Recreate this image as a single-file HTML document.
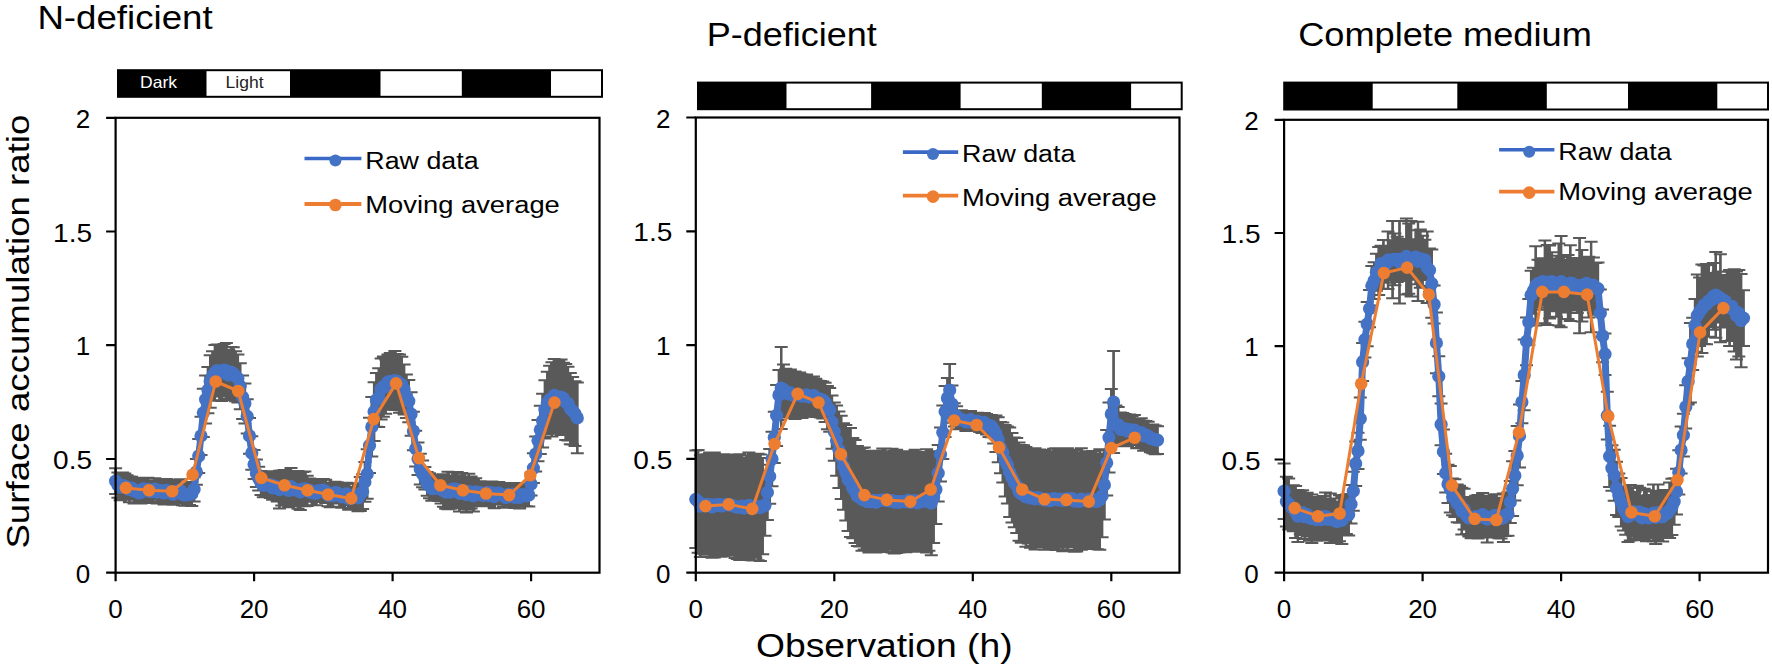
<!DOCTYPE html>
<html><head><meta charset="utf-8"><title>Surface accumulation ratio</title>
<style>html,body{margin:0;padding:0;background:#fff;}body{width:1772px;height:666px;overflow:hidden;}svg{display:block;}</style>
</head><body>
<svg width="1772" height="666" viewBox="0 0 1772 666">
<rect x="0" y="0" width="1772" height="666" fill="#fff"/>
<rect x="117" y="69.2" width="486" height="28.6" fill="#000"/>
<rect x="206.5" y="71.2" width="83.5" height="24.6" fill="#fff"/>
<rect x="380.5" y="71.2" width="81.3" height="24.6" fill="#fff"/>
<rect x="551" y="71.2" width="50" height="24.6" fill="#fff"/>
<text x="158.5" y="87.6" font-family='"Liberation Sans", Arial, sans-serif' font-size="16.5" fill="#fff" text-anchor="middle" textLength="37" lengthAdjust="spacingAndGlyphs">Dark</text>
<text x="244.5" y="87.8" font-family='"Liberation Sans", Arial, sans-serif' font-size="16.5" fill="#222" text-anchor="middle" textLength="38" lengthAdjust="spacingAndGlyphs">Light</text>
<path d="M115.6 468.2V494M109.1 468.2H122.1M109.1 494H122.1M117.9 472.6V497.7M111.4 472.6H124.4M111.4 497.7H124.4M120.2 474.3V500.2M113.7 474.3H126.7M113.7 500.2H126.7M122.5 472.6V498.5M116 472.6H129M116 498.5H129M124.8 473.5V498.8M118.3 473.5H131.3M118.3 498.8H131.3M127.1 475.3V498.7M120.6 475.3H133.6M120.6 498.7H133.6M129.4 476.6V502.3M122.9 476.6H135.9M122.9 502.3H135.9M131.8 476.7V499.7M125.3 476.7H138.3M125.3 499.7H138.3M134.1 478.2V503.4M127.6 478.2H140.6M127.6 503.4H140.6M136.4 479.2V502.2M129.9 479.2H142.9M129.9 502.2H142.9M138.7 482V503.6M132.2 482H145.2M132.2 503.6H145.2M141 481.1V503.6M134.5 481.1H147.5M134.5 503.6H147.5M143.3 478V499.8M136.8 478H149.8M136.8 499.8H149.8M145.6 477.8V501.9M139.1 477.8H152.1M139.1 501.9H152.1M147.9 477.7V500.9M141.4 477.7H154.4M141.4 500.9H154.4M150.2 480.5V502.9M143.7 480.5H156.7M143.7 502.9H156.7M152.5 480.7V502M146 480.7H159M146 502H159M154.8 478.2V499.8M148.3 478.2H161.3M148.3 499.8H161.3M157.1 481V503.4M150.6 481H163.6M150.6 503.4H163.6M159.5 479V501.9M153 479H166M153 501.9H166M161.8 480.4V502.1M155.3 480.4H168.3M155.3 502.1H168.3M164.1 481.5V504.6M157.6 481.5H170.6M157.6 504.6H170.6M166.4 479.1V501.6M159.9 479.1H172.9M159.9 501.6H172.9M168.7 480.1V503.6M162.2 480.1H175.2M162.2 503.6H175.2M171 482.3V503.7M164.5 482.3H177.5M164.5 503.7H177.5M173.3 484V504.7M166.8 484H179.8M166.8 504.7H179.8M175.6 480.3V503.1M169.1 480.3H182.1M169.1 503.1H182.1M177.9 479.7V501.6M171.4 479.7H184.4M171.4 501.6H184.4M180.2 479.2V501.6M173.7 479.2H186.7M173.7 501.6H186.7M182.5 483.3V505.3M176 483.3H189M176 505.3H189M184.8 484.7V505.7M178.3 484.7H191.3M178.3 505.7H191.3M187.2 483.7V505.5M180.7 483.7H193.7M180.7 505.5H193.7M189.5 483.7V505M183 483.7H196M183 505H196M191.8 481.9V505.9M185.3 481.9H198.3M185.3 505.9H198.3M194.1 477.2V501.5M187.6 477.2H200.6M187.6 501.5H200.6M196.4 459V484.8M189.9 459H202.9M189.9 484.8H202.9M198.7 439.1V472.9M192.2 439.1H205.2M192.2 472.9H205.2M201 416.7V455M194.5 416.7H207.5M194.5 455H207.5M203.3 388.8V436.9M196.8 388.8H209.8M196.8 436.9H209.8M205.6 375.6V423.4M199.1 375.6H212.1M199.1 423.4H212.1M207.9 366.9V413.2M201.4 366.9H214.4M201.4 413.2H214.4M210.2 355.2V407.7M203.7 355.2H216.7M203.7 407.7H216.7M212.5 351.3V400.8M206 351.3H219M206 400.8H219M214.9 344.9V400.5M208.4 344.9H221.4M208.4 400.5H221.4M217.2 344.4V396.6M210.7 344.4H223.7M210.7 396.6H223.7M219.5 344.5V400.2M213 344.5H226M213 400.2H226M221.8 345.4V401M215.3 345.4H228.3M215.3 401H228.3M224.1 344.1V396.1M217.6 344.1H230.6M217.6 396.1H230.6M226.4 343V398.8M219.9 343H232.9M219.9 398.8H232.9M228.7 350.1V399.9M222.2 350.1H235.2M222.2 399.9H235.2M231 346.9V397.4M224.5 346.9H237.5M224.5 397.4H237.5M233.3 347.2V399.7M226.8 347.2H239.8M226.8 399.7H239.8M235.6 351.3V401.2M229.1 351.3H242.1M229.1 401.2H242.1M237.9 354.4V402.4M231.4 354.4H244.4M231.4 402.4H244.4M240.2 363.2V409.2M233.8 363.2H246.8M233.8 409.2H246.8M242.6 375.4V419M236.1 375.4H249.1M236.1 419H249.1M244.9 383.6V423.5M238.4 383.6H251.4M238.4 423.5H251.4M247.2 399.2V433.4M240.7 399.2H253.7M240.7 433.4H253.7M249.5 418V453.7M243 418H256M243 453.7H256M251.8 436.3V469.7M245.3 436.3H258.3M245.3 469.7H258.3M254.1 449.9V478.9M247.6 449.9H260.6M247.6 478.9H260.6M256.4 459.6V487.1M249.9 459.6H262.9M249.9 487.1H262.9M258.7 466.7V490.4M252.2 466.7H265.2M252.2 490.4H265.2M261 471V495M254.5 471H267.5M254.5 495H267.5M263.3 473.6V497.2M256.8 473.6H269.8M256.8 497.2H269.8M265.6 472V496M259.1 472H272.1M259.1 496H272.1M267.9 472.3V497.2M261.4 472.3H274.4M261.4 497.2H274.4M270.3 471.2V498.1M263.8 471.2H276.8M263.8 498.1H276.8M272.6 475.8V499.8M266.1 475.8H279.1M266.1 499.8H279.1M274.9 473.9V498.6M268.4 473.9H281.4M268.4 498.6H281.4M277.2 472.6V501.5M270.7 472.6H283.7M270.7 501.5H283.7M279.5 470.8V508.6M273 470.8H286M273 508.6H286M281.8 470.5V505.5M275.3 470.5H288.3M275.3 505.5H288.3M284.1 469.9V502.8M277.6 469.9H290.6M277.6 502.8H290.6M286.4 470.9V504.8M279.9 470.9H292.9M279.9 504.8H292.9M288.7 473.9V507.2M282.2 473.9H295.2M282.2 507.2H295.2M291 468V505.5M284.5 468H297.5M284.5 505.5H297.5M293.3 472.9V506.1M286.8 472.9H299.8M286.8 506.1H299.8M295.6 473.5V506.1M289.1 473.5H302.1M289.1 506.1H302.1M298 471.1V508.8M291.5 471.1H304.5M291.5 508.8H304.5M300.3 473.8V509.9M293.8 473.8H306.8M293.8 509.9H306.8M302.6 471.9V506.3M296.1 471.9H309.1M296.1 506.3H309.1M304.9 471.4V506.2M298.4 471.4H311.4M298.4 506.2H311.4M307.2 475.8V505.9M300.7 475.8H313.7M300.7 505.9H313.7M309.5 478.4V501.8M303 478.4H316M303 501.8H316M311.8 480.2V505.3M305.3 480.2H318.3M305.3 505.3H318.3M314.1 481V505.3M307.6 481H320.6M307.6 505.3H320.6M316.4 481.2V505.2M309.9 481.2H322.9M309.9 505.2H322.9M318.7 479V502M312.2 479H325.2M312.2 502H325.2M321 480.8V502M314.5 480.8H327.5M314.5 502H327.5M323.3 479V501M316.8 479H329.8M316.8 501H329.8M325.7 479.7V503.1M319.2 479.7H332.2M319.2 503.1H332.2M328 483.9V506.3M321.5 483.9H334.5M321.5 506.3H334.5M330.3 483.1V507.3M323.8 483.1H336.8M323.8 507.3H336.8M332.6 484.8V506.7M326.1 484.8H339.1M326.1 506.7H339.1M334.9 481.8V503.2M328.4 481.8H341.4M328.4 503.2H341.4M337.2 482.2V503.4M330.7 482.2H343.7M330.7 503.4H343.7M339.5 483.6V507.1M333 483.6H346M333 507.1H346M341.8 485.9V507.8M335.3 485.9H348.3M335.3 507.8H348.3M344.1 484.9V507.8M337.6 484.9H350.6M337.6 507.8H350.6M346.4 482.7V505.1M339.9 482.7H352.9M339.9 505.1H352.9M348.7 487.1V509.8M342.2 487.1H355.2M342.2 509.8H355.2M351 487.3V508.9M344.5 487.3H357.5M344.5 508.9H357.5M353.4 483.8V506.3M346.9 483.8H359.9M346.9 506.3H359.9M355.7 483.3V507.1M349.2 483.3H362.2M349.2 507.1H362.2M358 484.5V511.3M351.5 484.5H364.5M351.5 511.3H364.5M360.3 477V511M353.8 477H366.8M353.8 511H366.8M362.6 474.3V508.9M356.1 474.3H369.1M356.1 508.9H369.1M364.9 462.1V501.8M358.4 462.1H371.4M358.4 501.8H371.4M367.2 449.3V498.8M360.7 449.3H373.7M360.7 498.8H373.7M369.5 417.8V473.1M363 417.8H376M363 473.1H376M371.8 397.1V456.6M365.3 397.1H378.3M365.3 456.6H378.3M374.1 382.3V440.9M367.6 382.3H380.6M367.6 440.9H380.6M376.4 373.1V426.7M369.9 373.1H382.9M369.9 426.7H382.9M378.8 368.2V427.1M372.2 368.2H385.2M372.2 427.1H385.2M381.1 358.6V419.6M374.6 358.6H387.6M374.6 419.6H387.6M383.4 356.6V416.7M376.9 356.6H389.9M376.9 416.7H389.9M385.7 359.6V413.7M379.2 359.6H392.2M379.2 413.7H392.2M388 354.5V409M381.5 354.5H394.5M381.5 409H394.5M390.3 353.1V409.8M383.8 353.1H396.8M383.8 409.8H396.8M392.6 353.9V408.8M386.1 353.9H399.1M386.1 408.8H399.1M394.9 351.1V409.9M388.4 351.1H401.4M388.4 409.9H401.4M397.2 354V408.7M390.7 354H403.7M390.7 408.7H403.7M399.5 354.6V412.7M393 354.6H406M393 412.7H406M401.8 356.8V412.6M395.3 356.8H408.3M395.3 412.6H408.3M404.1 364.4V414.4M397.6 364.4H410.6M397.6 414.4H410.6M406.4 374.4V418M399.9 374.4H412.9M399.9 418H412.9M408.8 380V422.2M402.3 380H415.3M402.3 422.2H415.3M411.1 392.3V435.7M404.6 392.3H417.6M404.6 435.7H417.6M413.4 411.8V450.2M406.9 411.8H419.9M406.9 450.2H419.9M415.7 430.8V466.6M409.2 430.8H422.2M409.2 466.6H422.2M418 442.5V475.1M411.5 442.5H424.5M411.5 475.1H424.5M420.3 453.8V484.6M413.8 453.8H426.8M413.8 484.6H426.8M422.6 460.5V487.2M416.1 460.5H429.1M416.1 487.2H429.1M424.9 466.9V489.6M418.4 466.9H431.4M418.4 489.6H431.4M427.2 471.9V495.7M420.7 471.9H433.7M420.7 495.7H433.7M429.5 473.2V498.2M423 473.2H436M423 498.2H436M431.8 476.6V500.7M425.3 476.6H438.3M425.3 500.7H438.3M434.1 475.5V500.1M427.6 475.5H440.6M427.6 500.1H440.6M436.5 475.2V500.8M430 475.2H443M430 500.8H443M438.8 475.7V501.1M432.3 475.7H445.3M432.3 501.1H445.3M441.1 474.6V503.5M434.6 474.6H447.6M434.6 503.5H447.6M443.4 474.2V506.8M436.9 474.2H449.9M436.9 506.8H449.9M445.7 475.4V508.7M439.2 475.4H452.2M439.2 508.7H452.2M448 471.8V509.2M441.5 471.8H454.5M441.5 509.2H454.5M450.3 475.8V508.7M443.8 475.8H456.8M443.8 508.7H456.8M452.6 471.9V506.1M446.1 471.9H459.1M446.1 506.1H459.1M454.9 472.6V505.6M448.4 472.6H461.4M448.4 505.6H461.4M457.2 471.9V507M450.7 471.9H463.7M450.7 507H463.7M459.5 475.3V511.4M453 475.3H466M453 511.4H466M461.8 473V507.9M455.3 473H468.3M455.3 507.9H468.3M464.2 477.3V509.1M457.7 477.3H470.7M457.7 509.1H470.7M466.5 476.6V512.5M460 476.6H473M460 512.5H473M468.8 473.7V509.3M462.3 473.7H475.3M462.3 509.3H475.3M471.1 476.6V508.6M464.6 476.6H477.6M464.6 508.6H477.6M473.4 480.1V511.5M466.9 480.1H479.9M466.9 511.5H479.9M475.7 478.2V505.5M469.2 478.2H482.2M469.2 505.5H482.2M478 481.5V506.2M471.5 481.5H484.5M471.5 506.2H484.5M480.3 481.3V503.7M473.8 481.3H486.8M473.8 503.7H486.8M482.6 485.4V505.3M476.1 485.4H489.1M476.1 505.3H489.1M484.9 484.1V505.4M478.4 484.1H491.4M478.4 505.4H491.4M487.2 481.9V502.8M480.7 481.9H493.7M480.7 502.8H493.7M489.5 484.8V506.3M483 484.8H496M483 506.3H496M491.9 481.4V504.5M485.4 481.4H498.4M485.4 504.5H498.4M494.2 485.2V508.2M487.7 485.2H500.7M487.7 508.2H500.7M496.5 483.1V503.7M490 483.1H503M490 503.7H503M498.8 482V504.4M492.3 482H505.3M492.3 504.4H505.3M501.1 484.4V504.6M494.6 484.4H507.6M494.6 504.6H507.6M503.4 484V506.8M496.9 484H509.9M496.9 506.8H509.9M505.7 487.2V507.8M499.2 487.2H512.2M499.2 507.8H512.2M508 482.9V505.7M501.5 482.9H514.5M501.5 505.7H514.5M510.3 485.5V507.6M503.8 485.5H516.8M503.8 507.6H516.8M512.6 484.2V504.2M506.1 484.2H519.1M506.1 504.2H519.1M514.9 486.8V508M508.4 486.8H521.4M508.4 508H521.4M517.2 483V505.9M510.8 483H523.8M510.8 505.9H523.8M519.6 486.1V508.6M513.1 486.1H526.1M513.1 508.6H526.1M521.9 483.4V506.1M515.4 483.4H528.4M515.4 506.1H528.4M524.2 483.5V506.1M517.7 483.5H530.7M517.7 506.1H530.7M526.5 485.4V506.3M520 485.4H533M520 506.3H533M528.8 483.6V506.4M522.3 483.6H535.3M522.3 506.4H535.3M531.1 472.5V495.6M524.6 472.5H537.6M524.6 495.6H537.6M533.4 453.3V482.9M526.9 453.3H539.9M526.9 482.9H539.9M535.7 436.4V471.5M529.2 436.4H542.2M529.2 471.5H542.2M538 419.9V461.3M531.5 419.9H544.5M531.5 461.3H544.5M540.3 405.8V453.9M533.8 405.8H546.8M533.8 453.9H546.8M542.6 393.7V447.4M536.1 393.7H549.1M536.1 447.4H549.1M544.9 380.3V438.6M538.4 380.3H551.4M538.4 438.6H551.4M547.3 371.7V433.9M540.8 371.7H553.8M540.8 433.9H553.8M549.6 365.8V433.4M543.1 365.8H556.1M543.1 433.4H556.1M551.9 362.2V436.4M545.4 362.2H558.4M545.4 436.4H558.4M554.2 358.9V431.8M547.7 358.9H560.7M547.7 431.8H560.7M556.5 363.8V432.1M550 363.8H563M550 432.1H563M558.8 361.4V432.9M552.3 361.4H565.3M552.3 432.9H565.3M561.1 359.5V434.9M554.6 359.5H567.6M554.6 434.9H567.6M563.4 362.7V434M556.9 362.7H569.9M556.9 434H569.9M565.7 364V439.9M559.2 364H572.2M559.2 439.9H572.2M568 366.7V440.4M561.5 366.7H574.5M561.5 440.4H574.5M570.3 373.1V444.2M563.8 373.1H576.8M563.8 444.2H576.8M572.6 377V444.6M566.1 377H579.1M566.1 444.6H579.1M575 381.3V446.1M568.5 381.3H581.5M568.5 446.1H581.5M577.3 382.5V453.2M570.8 382.5H583.8M570.8 453.2H583.8" stroke="#595959" stroke-width="2" fill="none"/>
<path d="M115.6 468.2V494M117.9 472.6V497.7M120.2 474.3V500.2M122.5 472.6V498.5M124.8 473.5V498.8M127.1 475.3V498.7M129.4 476.6V502.3M131.8 476.7V499.7M134.1 478.2V503.4M136.4 479.2V502.2M138.7 482V503.6M141 481.1V503.6M143.3 478V499.8M145.6 477.8V501.9M147.9 477.7V500.9M150.2 480.5V502.9M152.5 480.7V502M154.8 478.2V499.8M157.1 481V503.4M159.5 479V501.9M161.8 480.4V502.1M164.1 481.5V504.6M166.4 479.1V501.6M168.7 480.1V503.6M171 482.3V503.7M173.3 484V504.7M175.6 480.3V503.1M177.9 479.7V501.6M180.2 479.2V501.6M182.5 483.3V505.3M184.8 484.7V505.7M187.2 483.7V505.5M189.5 483.7V505M191.8 481.9V505.9M194.1 477.2V501.5M196.4 459V484.8M198.7 439.1V472.9M201 416.7V455M203.3 388.8V436.9M205.6 375.6V423.4M207.9 366.9V413.2M210.2 355.2V407.7M212.5 351.3V400.8M214.9 344.9V400.5M217.2 344.4V396.6M219.5 344.5V400.2M221.8 345.4V401M224.1 344.1V396.1M226.4 343V398.8M228.7 350.1V399.9M231 346.9V397.4M233.3 347.2V399.7M235.6 351.3V401.2M237.9 354.4V402.4M240.2 363.2V409.2M242.6 375.4V419M244.9 383.6V423.5M247.2 399.2V433.4M249.5 418V453.7M251.8 436.3V469.7M254.1 449.9V478.9M256.4 459.6V487.1M258.7 466.7V490.4M261 471V495M263.3 473.6V497.2M265.6 472V496M267.9 472.3V497.2M270.3 471.2V498.1M272.6 475.8V499.8M274.9 473.9V498.6M277.2 472.6V501.5M279.5 470.8V508.6M281.8 470.5V505.5M284.1 469.9V502.8M286.4 470.9V504.8M288.7 473.9V507.2M291 468V505.5M293.3 472.9V506.1M295.6 473.5V506.1M298 471.1V508.8M300.3 473.8V509.9M302.6 471.9V506.3M304.9 471.4V506.2M307.2 475.8V505.9M309.5 478.4V501.8M311.8 480.2V505.3M314.1 481V505.3M316.4 481.2V505.2M318.7 479V502M321 480.8V502M323.3 479V501M325.7 479.7V503.1M328 483.9V506.3M330.3 483.1V507.3M332.6 484.8V506.7M334.9 481.8V503.2M337.2 482.2V503.4M339.5 483.6V507.1M341.8 485.9V507.8M344.1 484.9V507.8M346.4 482.7V505.1M348.7 487.1V509.8M351 487.3V508.9M353.4 483.8V506.3M355.7 483.3V507.1M358 484.5V511.3M360.3 477V511M362.6 474.3V508.9M364.9 462.1V501.8M367.2 449.3V498.8M369.5 417.8V473.1M371.8 397.1V456.6M374.1 382.3V440.9M376.4 373.1V426.7M378.8 368.2V427.1M381.1 358.6V419.6M383.4 356.6V416.7M385.7 359.6V413.7M388 354.5V409M390.3 353.1V409.8M392.6 353.9V408.8M394.9 351.1V409.9M397.2 354V408.7M399.5 354.6V412.7M401.8 356.8V412.6M404.1 364.4V414.4M406.4 374.4V418M408.8 380V422.2M411.1 392.3V435.7M413.4 411.8V450.2M415.7 430.8V466.6M418 442.5V475.1M420.3 453.8V484.6M422.6 460.5V487.2M424.9 466.9V489.6M427.2 471.9V495.7M429.5 473.2V498.2M431.8 476.6V500.7M434.1 475.5V500.1M436.5 475.2V500.8M438.8 475.7V501.1M441.1 474.6V503.5M443.4 474.2V506.8M445.7 475.4V508.7M448 471.8V509.2M450.3 475.8V508.7M452.6 471.9V506.1M454.9 472.6V505.6M457.2 471.9V507M459.5 475.3V511.4M461.8 473V507.9M464.2 477.3V509.1M466.5 476.6V512.5M468.8 473.7V509.3M471.1 476.6V508.6M473.4 480.1V511.5M475.7 478.2V505.5M478 481.5V506.2M480.3 481.3V503.7M482.6 485.4V505.3M484.9 484.1V505.4M487.2 481.9V502.8M489.5 484.8V506.3M491.9 481.4V504.5M494.2 485.2V508.2M496.5 483.1V503.7M498.8 482V504.4M501.1 484.4V504.6M503.4 484V506.8M505.7 487.2V507.8M508 482.9V505.7M510.3 485.5V507.6M512.6 484.2V504.2M514.9 486.8V508M517.2 483V505.9M519.6 486.1V508.6M521.9 483.4V506.1M524.2 483.5V506.1M526.5 485.4V506.3M528.8 483.6V506.4M531.1 472.5V495.6M533.4 453.3V482.9M535.7 436.4V471.5M538 419.9V461.3M540.3 405.8V453.9M542.6 393.7V447.4M544.9 380.3V438.6M547.3 371.7V433.9M549.6 365.8V433.4M551.9 362.2V436.4M554.2 358.9V431.8M556.5 363.8V432.1M558.8 361.4V432.9M561.1 359.5V434.9M563.4 362.7V434M565.7 364V439.9M568 366.7V440.4M570.3 373.1V444.2M572.6 377V444.6M575 381.3V446.1M577.3 382.5V453.2" stroke="#595959" stroke-width="2.4" fill="none"/>
<polyline points="115.6,481.1 117.9,485.1 120.2,487.2 122.5,485.5 124.8,486.1 127.1,487 129.4,489.5 131.8,488.2 134.1,490.8 136.4,490.7 138.7,492.8 141,492.3 143.3,488.9 145.6,489.8 147.9,489.3 150.2,491.7 152.5,491.3 154.8,489 157.1,492.2 159.5,490.4 161.8,491.2 164.1,493 166.4,490.4 168.7,491.9 171,493 173.3,494.3 175.6,491.7 177.9,490.6 180.2,490.4 182.5,494.3 184.8,495.2 187.2,494.6 189.5,494.3 191.8,493.9 194.1,489.3 196.4,471.9 198.7,456 201,435.9 203.3,412.8 205.6,399.5 207.9,390.1 210.2,381.4 212.5,376 214.9,372.7 217.2,370.5 219.5,372.4 221.8,373.2 224.1,370.1 226.4,370.9 228.7,375 231,372.1 233.3,373.5 235.6,376.3 237.9,378.4 240.2,386.2 242.6,397.2 244.9,403.5 247.2,416.3 249.5,435.9 251.8,453 254.1,464.4 256.4,473.4 258.7,478.6 261,483 263.3,485.4 265.6,484 267.9,484.8 270.3,484.7 272.6,487.8 274.9,486.2 277.2,487 279.5,489.7 281.8,488 284.1,486.3 286.4,487.9 288.7,490.5 291,486.7 293.3,489.5 295.6,489.8 298,489.9 300.3,491.8 302.6,489.1 304.9,488.8 307.2,490.9 309.5,490.1 311.8,492.7 314.1,493.2 316.4,493.2 318.7,490.5 321,491.4 323.3,490 325.7,491.4 328,495.1 330.3,495.2 332.6,495.7 334.9,492.5 337.2,492.8 339.5,495.3 341.8,496.9 344.1,496.3 346.4,493.9 348.7,498.5 351,498.1 353.4,495.1 355.7,495.2 358,497.9 360.3,494 362.6,491.6 364.9,481.9 367.2,474 369.5,445.5 371.8,426.9 374.1,411.6 376.4,399.9 378.8,397.7 381.1,389.1 383.4,386.6 385.7,386.6 388,381.8 390.3,381.5 392.6,381.3 394.9,380.5 397.2,381.3 399.5,383.6 401.8,384.7 404.1,389.4 406.4,396.2 408.8,401.1 411.1,414 413.4,431 415.7,448.7 418,458.8 420.3,469.2 422.6,473.9 424.9,478.2 427.2,483.8 429.5,485.7 431.8,488.6 434.1,487.8 436.5,488 438.8,488.4 441.1,489.1 443.4,490.5 445.7,492.1 448,490.5 450.3,492.2 452.6,489 454.9,489.1 457.2,489.5 459.5,493.4 461.8,490.5 464.2,493.2 466.5,494.6 468.8,491.5 471.1,492.6 473.4,495.8 475.7,491.9 478,493.9 480.3,492.5 482.6,495.4 484.9,494.8 487.2,492.3 489.5,495.6 491.9,492.9 494.2,496.7 496.5,493.4 498.8,493.2 501.1,494.5 503.4,495.4 505.7,497.5 508,494.3 510.3,496.5 512.6,494.2 514.9,497.4 517.2,494.4 519.6,497.4 521.9,494.7 524.2,494.8 526.5,495.9 528.8,495 531.1,484 533.4,468.1 535.7,454 538,440.6 540.3,429.8 542.6,420.6 544.9,409.5 547.3,402.8 549.6,399.6 551.9,399.3 554.2,395.4 556.5,397.9 558.8,397.2 561.1,397.2 563.4,398.3 565.7,402 568,403.5 570.3,408.7 572.6,410.8 575,413.7 577.3,417.9" stroke="#4472C4" stroke-width="7" fill="none" stroke-linejoin="round"/>
<g fill="#4472C4"><circle cx="115.6" cy="481.1" r="6.6"/><circle cx="117.9" cy="485.1" r="6.6"/><circle cx="120.2" cy="487.2" r="6.6"/><circle cx="122.5" cy="485.5" r="6.6"/><circle cx="124.8" cy="486.1" r="6.6"/><circle cx="127.1" cy="487" r="6.6"/><circle cx="129.4" cy="489.5" r="6.6"/><circle cx="131.8" cy="488.2" r="6.6"/><circle cx="134.1" cy="490.8" r="6.6"/><circle cx="136.4" cy="490.7" r="6.6"/><circle cx="138.7" cy="492.8" r="6.6"/><circle cx="141" cy="492.3" r="6.6"/><circle cx="143.3" cy="488.9" r="6.6"/><circle cx="145.6" cy="489.8" r="6.6"/><circle cx="147.9" cy="489.3" r="6.6"/><circle cx="150.2" cy="491.7" r="6.6"/><circle cx="152.5" cy="491.3" r="6.6"/><circle cx="154.8" cy="489" r="6.6"/><circle cx="157.1" cy="492.2" r="6.6"/><circle cx="159.5" cy="490.4" r="6.6"/><circle cx="161.8" cy="491.2" r="6.6"/><circle cx="164.1" cy="493" r="6.6"/><circle cx="166.4" cy="490.4" r="6.6"/><circle cx="168.7" cy="491.9" r="6.6"/><circle cx="171" cy="493" r="6.6"/><circle cx="173.3" cy="494.3" r="6.6"/><circle cx="175.6" cy="491.7" r="6.6"/><circle cx="177.9" cy="490.6" r="6.6"/><circle cx="180.2" cy="490.4" r="6.6"/><circle cx="182.5" cy="494.3" r="6.6"/><circle cx="184.8" cy="495.2" r="6.6"/><circle cx="187.2" cy="494.6" r="6.6"/><circle cx="189.5" cy="494.3" r="6.6"/><circle cx="191.8" cy="493.9" r="6.6"/><circle cx="194.1" cy="489.3" r="6.6"/><circle cx="196.4" cy="471.9" r="6.6"/><circle cx="198.7" cy="456" r="6.6"/><circle cx="201" cy="435.9" r="6.6"/><circle cx="203.3" cy="412.8" r="6.6"/><circle cx="205.6" cy="399.5" r="6.6"/><circle cx="207.9" cy="390.1" r="6.6"/><circle cx="210.2" cy="381.4" r="6.6"/><circle cx="212.5" cy="376" r="6.6"/><circle cx="214.9" cy="372.7" r="6.6"/><circle cx="217.2" cy="370.5" r="6.6"/><circle cx="219.5" cy="372.4" r="6.6"/><circle cx="221.8" cy="373.2" r="6.6"/><circle cx="224.1" cy="370.1" r="6.6"/><circle cx="226.4" cy="370.9" r="6.6"/><circle cx="228.7" cy="375" r="6.6"/><circle cx="231" cy="372.1" r="6.6"/><circle cx="233.3" cy="373.5" r="6.6"/><circle cx="235.6" cy="376.3" r="6.6"/><circle cx="237.9" cy="378.4" r="6.6"/><circle cx="240.2" cy="386.2" r="6.6"/><circle cx="242.6" cy="397.2" r="6.6"/><circle cx="244.9" cy="403.5" r="6.6"/><circle cx="247.2" cy="416.3" r="6.6"/><circle cx="249.5" cy="435.9" r="6.6"/><circle cx="251.8" cy="453" r="6.6"/><circle cx="254.1" cy="464.4" r="6.6"/><circle cx="256.4" cy="473.4" r="6.6"/><circle cx="258.7" cy="478.6" r="6.6"/><circle cx="261" cy="483" r="6.6"/><circle cx="263.3" cy="485.4" r="6.6"/><circle cx="265.6" cy="484" r="6.6"/><circle cx="267.9" cy="484.8" r="6.6"/><circle cx="270.3" cy="484.7" r="6.6"/><circle cx="272.6" cy="487.8" r="6.6"/><circle cx="274.9" cy="486.2" r="6.6"/><circle cx="277.2" cy="487" r="6.6"/><circle cx="279.5" cy="489.7" r="6.6"/><circle cx="281.8" cy="488" r="6.6"/><circle cx="284.1" cy="486.3" r="6.6"/><circle cx="286.4" cy="487.9" r="6.6"/><circle cx="288.7" cy="490.5" r="6.6"/><circle cx="291" cy="486.7" r="6.6"/><circle cx="293.3" cy="489.5" r="6.6"/><circle cx="295.6" cy="489.8" r="6.6"/><circle cx="298" cy="489.9" r="6.6"/><circle cx="300.3" cy="491.8" r="6.6"/><circle cx="302.6" cy="489.1" r="6.6"/><circle cx="304.9" cy="488.8" r="6.6"/><circle cx="307.2" cy="490.9" r="6.6"/><circle cx="309.5" cy="490.1" r="6.6"/><circle cx="311.8" cy="492.7" r="6.6"/><circle cx="314.1" cy="493.2" r="6.6"/><circle cx="316.4" cy="493.2" r="6.6"/><circle cx="318.7" cy="490.5" r="6.6"/><circle cx="321" cy="491.4" r="6.6"/><circle cx="323.3" cy="490" r="6.6"/><circle cx="325.7" cy="491.4" r="6.6"/><circle cx="328" cy="495.1" r="6.6"/><circle cx="330.3" cy="495.2" r="6.6"/><circle cx="332.6" cy="495.7" r="6.6"/><circle cx="334.9" cy="492.5" r="6.6"/><circle cx="337.2" cy="492.8" r="6.6"/><circle cx="339.5" cy="495.3" r="6.6"/><circle cx="341.8" cy="496.9" r="6.6"/><circle cx="344.1" cy="496.3" r="6.6"/><circle cx="346.4" cy="493.9" r="6.6"/><circle cx="348.7" cy="498.5" r="6.6"/><circle cx="351" cy="498.1" r="6.6"/><circle cx="353.4" cy="495.1" r="6.6"/><circle cx="355.7" cy="495.2" r="6.6"/><circle cx="358" cy="497.9" r="6.6"/><circle cx="360.3" cy="494" r="6.6"/><circle cx="362.6" cy="491.6" r="6.6"/><circle cx="364.9" cy="481.9" r="6.6"/><circle cx="367.2" cy="474" r="6.6"/><circle cx="369.5" cy="445.5" r="6.6"/><circle cx="371.8" cy="426.9" r="6.6"/><circle cx="374.1" cy="411.6" r="6.6"/><circle cx="376.4" cy="399.9" r="6.6"/><circle cx="378.8" cy="397.7" r="6.6"/><circle cx="381.1" cy="389.1" r="6.6"/><circle cx="383.4" cy="386.6" r="6.6"/><circle cx="385.7" cy="386.6" r="6.6"/><circle cx="388" cy="381.8" r="6.6"/><circle cx="390.3" cy="381.5" r="6.6"/><circle cx="392.6" cy="381.3" r="6.6"/><circle cx="394.9" cy="380.5" r="6.6"/><circle cx="397.2" cy="381.3" r="6.6"/><circle cx="399.5" cy="383.6" r="6.6"/><circle cx="401.8" cy="384.7" r="6.6"/><circle cx="404.1" cy="389.4" r="6.6"/><circle cx="406.4" cy="396.2" r="6.6"/><circle cx="408.8" cy="401.1" r="6.6"/><circle cx="411.1" cy="414" r="6.6"/><circle cx="413.4" cy="431" r="6.6"/><circle cx="415.7" cy="448.7" r="6.6"/><circle cx="418" cy="458.8" r="6.6"/><circle cx="420.3" cy="469.2" r="6.6"/><circle cx="422.6" cy="473.9" r="6.6"/><circle cx="424.9" cy="478.2" r="6.6"/><circle cx="427.2" cy="483.8" r="6.6"/><circle cx="429.5" cy="485.7" r="6.6"/><circle cx="431.8" cy="488.6" r="6.6"/><circle cx="434.1" cy="487.8" r="6.6"/><circle cx="436.5" cy="488" r="6.6"/><circle cx="438.8" cy="488.4" r="6.6"/><circle cx="441.1" cy="489.1" r="6.6"/><circle cx="443.4" cy="490.5" r="6.6"/><circle cx="445.7" cy="492.1" r="6.6"/><circle cx="448" cy="490.5" r="6.6"/><circle cx="450.3" cy="492.2" r="6.6"/><circle cx="452.6" cy="489" r="6.6"/><circle cx="454.9" cy="489.1" r="6.6"/><circle cx="457.2" cy="489.5" r="6.6"/><circle cx="459.5" cy="493.4" r="6.6"/><circle cx="461.8" cy="490.5" r="6.6"/><circle cx="464.2" cy="493.2" r="6.6"/><circle cx="466.5" cy="494.6" r="6.6"/><circle cx="468.8" cy="491.5" r="6.6"/><circle cx="471.1" cy="492.6" r="6.6"/><circle cx="473.4" cy="495.8" r="6.6"/><circle cx="475.7" cy="491.9" r="6.6"/><circle cx="478" cy="493.9" r="6.6"/><circle cx="480.3" cy="492.5" r="6.6"/><circle cx="482.6" cy="495.4" r="6.6"/><circle cx="484.9" cy="494.8" r="6.6"/><circle cx="487.2" cy="492.3" r="6.6"/><circle cx="489.5" cy="495.6" r="6.6"/><circle cx="491.9" cy="492.9" r="6.6"/><circle cx="494.2" cy="496.7" r="6.6"/><circle cx="496.5" cy="493.4" r="6.6"/><circle cx="498.8" cy="493.2" r="6.6"/><circle cx="501.1" cy="494.5" r="6.6"/><circle cx="503.4" cy="495.4" r="6.6"/><circle cx="505.7" cy="497.5" r="6.6"/><circle cx="508" cy="494.3" r="6.6"/><circle cx="510.3" cy="496.5" r="6.6"/><circle cx="512.6" cy="494.2" r="6.6"/><circle cx="514.9" cy="497.4" r="6.6"/><circle cx="517.2" cy="494.4" r="6.6"/><circle cx="519.6" cy="497.4" r="6.6"/><circle cx="521.9" cy="494.7" r="6.6"/><circle cx="524.2" cy="494.8" r="6.6"/><circle cx="526.5" cy="495.9" r="6.6"/><circle cx="528.8" cy="495" r="6.6"/><circle cx="531.1" cy="484" r="6.6"/><circle cx="533.4" cy="468.1" r="6.6"/><circle cx="535.7" cy="454" r="6.6"/><circle cx="538" cy="440.6" r="6.6"/><circle cx="540.3" cy="429.8" r="6.6"/><circle cx="542.6" cy="420.6" r="6.6"/><circle cx="544.9" cy="409.5" r="6.6"/><circle cx="547.3" cy="402.8" r="6.6"/><circle cx="549.6" cy="399.6" r="6.6"/><circle cx="551.9" cy="399.3" r="6.6"/><circle cx="554.2" cy="395.4" r="6.6"/><circle cx="556.5" cy="397.9" r="6.6"/><circle cx="558.8" cy="397.2" r="6.6"/><circle cx="561.1" cy="397.2" r="6.6"/><circle cx="563.4" cy="398.3" r="6.6"/><circle cx="565.7" cy="402" r="6.6"/><circle cx="568" cy="403.5" r="6.6"/><circle cx="570.3" cy="408.7" r="6.6"/><circle cx="572.6" cy="410.8" r="6.6"/><circle cx="575" cy="413.7" r="6.6"/><circle cx="577.3" cy="417.9" r="6.6"/></g>
<polyline points="125.9,487.9 149,490.2 172.1,491.2 192.6,474.6 215.7,381.5 238.2,391 261.3,477.9 284.5,485.2 307.6,490.2 328.1,494.5 351.2,498.4 373.7,419.1 396.1,383.4 418.9,458.1 440.4,485.2 462.9,490.2 486,493.5 509.1,495.1 530.3,475.3 554.4,402.6" stroke="#ED7D31" stroke-width="3" fill="none" stroke-linejoin="round"/>
<g fill="#ED7D31"><circle cx="125.9" cy="487.9" r="6.3"/><circle cx="149" cy="490.2" r="6.3"/><circle cx="172.1" cy="491.2" r="6.3"/><circle cx="192.6" cy="474.6" r="6.3"/><circle cx="215.7" cy="381.5" r="6.3"/><circle cx="238.2" cy="391" r="6.3"/><circle cx="261.3" cy="477.9" r="6.3"/><circle cx="284.5" cy="485.2" r="6.3"/><circle cx="307.6" cy="490.2" r="6.3"/><circle cx="328.1" cy="494.5" r="6.3"/><circle cx="351.2" cy="498.4" r="6.3"/><circle cx="373.7" cy="419.1" r="6.3"/><circle cx="396.1" cy="383.4" r="6.3"/><circle cx="418.9" cy="458.1" r="6.3"/><circle cx="440.4" cy="485.2" r="6.3"/><circle cx="462.9" cy="490.2" r="6.3"/><circle cx="486" cy="493.5" r="6.3"/><circle cx="509.1" cy="495.1" r="6.3"/><circle cx="530.3" cy="475.3" r="6.3"/><circle cx="554.4" cy="402.6" r="6.3"/></g>
<rect x="115.6" y="117.8" width="483.9" height="454.9" fill="none" stroke="#000" stroke-width="2.2"/>
<path d="M106.1 572.7H115.6M106.1 459H115.6M106.1 345.2H115.6M106.1 231.5H115.6M106.1 117.8H115.6M115.6 572.7V581.2M254.1 572.7V581.2M392.6 572.7V581.2M531.1 572.7V581.2" stroke="#000" stroke-width="2.2" fill="none"/>
<text x="90.3" y="582.7" font-family='"Liberation Sans", Arial, sans-serif' font-size="26" text-anchor="end" fill="#000">0</text>
<text x="92.1" y="469" font-family='"Liberation Sans", Arial, sans-serif' font-size="26" text-anchor="end" fill="#000" textLength="39" lengthAdjust="spacingAndGlyphs">0.5</text>
<text x="90.3" y="355.2" font-family='"Liberation Sans", Arial, sans-serif' font-size="26" text-anchor="end" fill="#000">1</text>
<text x="92.1" y="241.5" font-family='"Liberation Sans", Arial, sans-serif' font-size="26" text-anchor="end" fill="#000" textLength="39" lengthAdjust="spacingAndGlyphs">1.5</text>
<text x="90.3" y="127.8" font-family='"Liberation Sans", Arial, sans-serif' font-size="26" text-anchor="end" fill="#000">2</text>
<text x="115.6" y="617.8" font-family='"Liberation Sans", Arial, sans-serif' font-size="26" text-anchor="middle" fill="#000">0</text>
<text x="254.1" y="617.8" font-family='"Liberation Sans", Arial, sans-serif' font-size="26" text-anchor="middle" fill="#000">20</text>
<text x="392.6" y="617.8" font-family='"Liberation Sans", Arial, sans-serif' font-size="26" text-anchor="middle" fill="#000">40</text>
<text x="531.1" y="617.8" font-family='"Liberation Sans", Arial, sans-serif' font-size="26" text-anchor="middle" fill="#000">60</text>
<line x1="304.5" y1="158.5" x2="361.4" y2="158.5" stroke="#3a68c6" stroke-width="3.6"/>
<circle cx="335.4" cy="160.5" r="6" fill="#4472C4"/>
<line x1="304.5" y1="204" x2="361.4" y2="204" stroke="#ED7D31" stroke-width="3.8"/>
<circle cx="335.4" cy="205" r="6.3" fill="#ED7D31"/>
<text x="365.3" y="168.5" font-family='"Liberation Sans", Arial, sans-serif' font-size="24.7" fill="#000" textLength="113.3" lengthAdjust="spacingAndGlyphs">Raw data</text>
<text x="365.3" y="212.7" font-family='"Liberation Sans", Arial, sans-serif' font-size="24.7" fill="#000" textLength="194.5" lengthAdjust="spacingAndGlyphs">Moving average</text>
<text x="37.4" y="29.3" font-family='"Liberation Sans", Arial, sans-serif' font-size="34" fill="#000" textLength="175.2" lengthAdjust="spacingAndGlyphs">N-deficient</text>
<rect x="697" y="81.6" width="485.7" height="28.6" fill="#000"/>
<rect x="786.5" y="83.6" width="84.6" height="24.6" fill="#fff"/>
<rect x="960.6" y="83.6" width="81.2" height="24.6" fill="#fff"/>
<rect x="1131.1" y="83.6" width="49.6" height="24.6" fill="#fff"/>
<path d="M695.8 450.6V547.9M689.3 450.6H702.3M689.3 547.9H702.3M698.1 450V552.8M691.6 450H704.6M691.6 552.8H704.6M700.4 455.3V557M693.9 455.3H706.9M693.9 557H706.9M702.7 455.3V553.7M696.2 455.3H709.2M696.2 553.7H709.2M705 454.5V554.7M698.5 454.5H711.5M698.5 554.7H711.5M707.3 454.2V554.5M700.8 454.2H713.8M700.8 554.5H713.8M709.6 452.5V557M703.1 452.5H716.1M703.1 557H716.1M712 456.3V557.7M705.5 456.3H718.5M705.5 557.7H718.5M714.3 452.5V557.4M707.8 452.5H720.8M707.8 557.4H720.8M716.6 455.2V555.3M710.1 455.2H723.1M710.1 555.3H723.1M718.9 454.2V554.7M712.4 454.2H725.4M712.4 554.7H725.4M721.2 455.2V556.7M714.7 455.2H727.7M714.7 556.7H727.7M723.5 454.3V556M717 454.3H730M717 556H730M725.8 454.7V554.6M719.3 454.7H732.3M719.3 554.6H732.3M728.1 454.4V555.5M721.6 454.4H734.6M721.6 555.5H734.6M730.4 455.8V554M723.9 455.8H736.9M723.9 554H736.9M732.7 455.7V555.8M726.2 455.7H739.2M726.2 555.8H739.2M735 455.3V557.9M728.5 455.3H741.5M728.5 557.9H741.5M737.3 455.3V559.1M730.8 455.3H743.8M730.8 559.1H743.8M739.7 454.3V560M733.2 454.3H746.2M733.2 560H746.2M742 455.5V556.9M735.5 455.5H748.5M735.5 556.9H748.5M744.3 458V558.1M737.8 458H750.8M737.8 558.1H750.8M746.6 455.2V559.5M740.1 455.2H753.1M740.1 559.5H753.1M748.9 452.4V558.3M742.4 452.4H755.4M742.4 558.3H755.4M751.2 455.8V560.2M744.7 455.8H757.7M744.7 560.2H757.7M753.5 454.5V560.6M747 454.5H760M747 560.6H760M755.8 453.9V557.7M749.3 453.9H762.3M749.3 557.7H762.3M758.1 453.7V560.2M751.6 453.7H764.6M751.6 560.2H764.6M760.4 454.4V561M753.9 454.4H766.9M753.9 561H766.9M762.7 458.1V554.2M756.2 458.1H769.2M756.2 554.2H769.2M765 474.9V535.7M758.5 474.9H771.5M758.5 535.7H771.5M767.4 464.7V520.1M760.9 464.7H773.9M760.9 520.1H773.9M769.7 449V503.8M763.2 449H776.2M763.2 503.8H776.2M772 431.8V486.2M765.5 431.8H778.5M765.5 486.2H778.5M774.3 411.7V463M767.8 411.7H780.8M767.8 463H780.8M776.6 384.9V446M770.1 384.9H783.1M770.1 446H783.1M778.9 370V420M772.4 370H785.4M772.4 420H785.4M781.2 347V429M774.7 347H787.7M774.7 429H787.7M783.5 364.5V414.5M777 364.5H790M777 414.5H790M785.8 368.7V416M779.3 368.7H792.3M779.3 416H792.3M788.1 370.2V417.4M781.6 370.2H794.6M781.6 417.4H794.6M790.4 369.5V416M783.9 369.5H796.9M783.9 416H796.9M792.8 372.2V417.7M786.2 372.2H799.2M786.2 417.7H799.2M795.1 371.5V419M788.6 371.5H801.6M788.6 419H801.6M797.4 372.5V417M790.9 372.5H803.9M790.9 417H803.9M799.7 372.5V417.3M793.2 372.5H806.2M793.2 417.3H806.2M802 374.3V417.9M795.5 374.3H808.5M795.5 417.9H808.5M804.3 375.6V416.4M797.8 375.6H810.8M797.8 416.4H810.8M806.6 374.5V415.1M800.1 374.5H813.1M800.1 415.1H813.1M808.9 377V416.8M802.4 377H815.4M802.4 416.8H815.4M811.2 377.7V415.7M804.7 377.7H817.7M804.7 415.7H817.7M813.5 376.5V414.4M807 376.5H820M807 414.4H820M815.8 378.7V417M809.3 378.7H822.3M809.3 417H822.3M818.1 380.7V416.8M811.6 380.7H824.6M811.6 416.8H824.6M820.4 381.1V417.4M813.9 381.1H826.9M813.9 417.4H826.9M822.8 381.5V418.5M816.3 381.5H829.3M816.3 418.5H829.3M825.1 382.8V421.9M818.6 382.8H831.6M818.6 421.9H831.6M827.4 386V429.3M820.9 386H833.9M820.9 429.3H833.9M829.7 388.1V431.7M823.2 388.1H836.2M823.2 431.7H836.2M832 395.6V448.7M825.5 395.6H838.5M825.5 448.7H838.5M834.3 402.4V460.8M827.8 402.4H840.8M827.8 460.8H840.8M836.6 405.5V475.7M830.1 405.5H843.1M830.1 475.7H843.1M838.9 411.5V488.1M832.4 411.5H845.4M832.4 488.1H845.4M841.2 415.8V499.1M834.7 415.8H847.7M834.7 499.1H847.7M843.5 423.2V509.8M837 423.2H850M837 509.8H850M845.8 425.1V520.4M839.3 425.1H852.3M839.3 520.4H852.3M848.1 428.1V530.9M841.6 428.1H854.6M841.6 530.9H854.6M850.5 427.9V537M844 427.9H857M844 537H857M852.8 437.9V538.3M846.3 437.9H859.3M846.3 538.3H859.3M855.1 440.1V543M848.6 440.1H861.6M848.6 543H861.6M857.4 446V546M850.9 446H863.9M850.9 546H863.9M859.7 447.5V546.5M853.2 447.5H866.2M853.2 546.5H866.2M862 448.1V550.8M855.5 448.1H868.5M855.5 550.8H868.5M864.3 447.6V549.6M857.8 447.6H870.8M857.8 549.6H870.8M866.6 452.8V549.8M860.1 452.8H873.1M860.1 549.8H873.1M868.9 450.8V552.5M862.4 450.8H875.4M862.4 552.5H875.4M871.2 452.6V550.9M864.7 452.6H877.7M864.7 550.9H877.7M873.5 450.7V549.8M867 450.7H880M867 549.8H880M875.8 451.9V552.6M869.3 451.9H882.3M869.3 552.6H882.3M878.2 450.8V550.2M871.7 450.8H884.7M871.7 550.2H884.7M880.5 452.1V548.5M874 452.1H887M874 548.5H887M882.8 448.5V551.1M876.3 448.5H889.3M876.3 551.1H889.3M885.1 448.6V552.1M878.6 448.6H891.6M878.6 552.1H891.6M887.4 451.2V549.3M880.9 451.2H893.9M880.9 549.3H893.9M889.7 452.3V549.8M883.2 452.3H896.2M883.2 549.8H896.2M892 448.8V552.4M885.5 448.8H898.5M885.5 552.4H898.5M894.3 450.9V553.4M887.8 450.9H900.8M887.8 553.4H900.8M896.6 449.7V553M890.1 449.7H903.1M890.1 553H903.1M898.9 452.1V552.5M892.4 452.1H905.4M892.4 552.5H905.4M901.2 453.5V549.9M894.7 453.5H907.7M894.7 549.9H907.7M903.5 451.9V551.5M897 451.9H910M897 551.5H910M905.9 451.2V552.3M899.4 451.2H912.4M899.4 552.3H912.4M908.2 452.2V548.6M901.7 452.2H914.7M901.7 548.6H914.7M910.5 453.8V550.8M904 453.8H917M904 550.8H917M912.8 451.7V550.4M906.3 451.7H919.3M906.3 550.4H919.3M915.1 449.7V551.6M908.6 449.7H921.6M908.6 551.6H921.6M917.4 453.7V551.8M910.9 453.7H923.9M910.9 551.8H923.9M919.7 452.7V551.1M913.2 452.7H926.2M913.2 551.1H926.2M922 452.1V551.3M915.5 452.1H928.5M915.5 551.3H928.5M924.3 452V549.3M917.8 452H930.8M917.8 549.3H930.8M926.6 449.3V552.5M920.1 449.3H933.1M920.1 552.5H933.1M928.9 453V550.7M922.4 453H935.4M922.4 550.7H935.4M931.2 451.2V555.2M924.8 451.2H937.8M924.8 555.2H937.8M933.6 451.3V543M927.1 451.3H940.1M927.1 543H940.1M935.9 455V524M929.4 455H942.4M929.4 524H942.4M938.2 445V501.4M931.7 445H944.7M931.7 501.4H944.7M940.5 427.4V481.4M934 427.4H947M934 481.4H947M942.8 405.6V459M936.3 405.6H949.3M936.3 459H949.3M945.1 386.1V437.1M938.6 386.1H951.6M938.6 437.1H951.6M947.4 378V418M940.9 378H953.9M940.9 418H953.9M949.7 364V416M943.2 364H956.2M943.2 416H956.2M952 385.6V422.8M945.5 385.6H958.5M945.5 422.8H958.5M954.3 403.3V426.6M947.8 403.3H960.8M947.8 426.6H960.8M956.6 406.2V426.1M950.1 406.2H963.1M950.1 426.1H963.1M958.9 410.5V429.3M952.4 410.5H965.4M952.4 429.3H965.4M961.3 410.3V428.6M954.8 410.3H967.8M954.8 428.6H967.8M963.6 411V429.2M957.1 411H970.1M957.1 429.2H970.1M965.9 412.8V431.1M959.4 412.8H972.4M959.4 431.1H972.4M968.2 413.6V430.3M961.7 413.6H974.7M961.7 430.3H974.7M970.5 411.1V428.2M964 411.1H977M964 428.2H977M972.8 414.3V430.7M966.3 414.3H979.3M966.3 430.7H979.3M975.1 414.1V429.5M968.6 414.1H981.6M968.6 429.5H981.6M977.4 412.7V430.1M970.9 412.7H983.9M970.9 430.1H983.9M979.7 413.9V432M973.2 413.9H986.2M973.2 432H986.2M982 415V433.1M975.5 415H988.5M975.5 433.1H988.5M984.3 412.9V431.7M977.8 412.9H990.8M977.8 431.7H990.8M986.6 414.1V434.5M980.1 414.1H993.1M980.1 434.5H993.1M989 415.7V437M982.5 415.7H995.5M982.5 437H995.5M991.3 415.1V437.3M984.8 415.1H997.8M984.8 437.3H997.8M993.6 415.7V443.4M987.1 415.7H1000.1M987.1 443.4H1000.1M995.9 415.5V451.9M989.4 415.5H1002.4M989.4 451.9H1002.4M998.2 417.2V462.3M991.7 417.2H1004.7M991.7 462.3H1004.7M1000.5 422V473.2M994 422H1007M994 473.2H1007M1002.8 422.6V482.6M996.3 422.6H1009.3M996.3 482.6H1009.3M1005.1 424.9V496.5M998.6 424.9H1011.6M998.6 496.5H1011.6M1007.4 426.6V503.6M1000.9 426.6H1013.9M1000.9 503.6H1013.9M1009.7 427.5V517M1003.2 427.5H1016.2M1003.2 517H1016.2M1012 432.9V522.5M1005.5 432.9H1018.5M1005.5 522.5H1018.5M1014.3 437.5V527.3M1007.8 437.5H1020.8M1007.8 527.3H1020.8M1016.7 438V533.1M1010.2 438H1023.2M1010.2 533.1H1023.2M1019 442.4V540.7M1012.5 442.4H1025.5M1012.5 540.7H1025.5M1021.3 445V542.8M1014.8 445H1027.8M1014.8 542.8H1027.8M1023.6 445.3V541.4M1017.1 445.3H1030.1M1017.1 541.4H1030.1M1025.9 447.1V546.7M1019.4 447.1H1032.4M1019.4 546.7H1032.4M1028.2 449.2V543.5M1021.7 449.2H1034.7M1021.7 543.5H1034.7M1030.5 448.3V547.7M1024 448.3H1037M1024 547.7H1037M1032.8 449.9V546M1026.3 449.9H1039.3M1026.3 546H1039.3M1035.1 448.2V549.5M1028.6 448.2H1041.6M1028.6 549.5H1041.6M1037.4 450.5V544.8M1030.9 450.5H1043.9M1030.9 544.8H1043.9M1039.7 449.5V546.9M1033.2 449.5H1046.2M1033.2 546.9H1046.2M1042 451.5V547.2M1035.5 451.5H1048.5M1035.5 547.2H1048.5M1044.4 449.9V549.8M1037.9 449.9H1050.9M1037.9 549.8H1050.9M1046.7 451.3V547M1040.2 451.3H1053.2M1040.2 547H1053.2M1049 452.4V548.9M1042.5 452.4H1055.5M1042.5 548.9H1055.5M1051.3 452.4V548.3M1044.8 452.4H1057.8M1044.8 548.3H1057.8M1053.6 448.7V548.8M1047.1 448.7H1060.1M1047.1 548.8H1060.1M1055.9 448.3V549.9M1049.4 448.3H1062.4M1049.4 549.9H1062.4M1058.2 452.1V547.6M1051.7 452.1H1064.7M1051.7 547.6H1064.7M1060.5 450.5V547.8M1054 450.5H1067M1054 547.8H1067M1062.8 449.7V551.3M1056.3 449.7H1069.3M1056.3 551.3H1069.3M1065.1 450.4V547.5M1058.6 450.4H1071.6M1058.6 547.5H1071.6M1067.4 448.3V550M1060.9 448.3H1073.9M1060.9 550H1073.9M1069.8 451.7V546.2M1063.2 451.7H1076.2M1063.2 546.2H1076.2M1072.1 450.1V547.3M1065.6 450.1H1078.6M1065.6 547.3H1078.6M1074.4 450.7V551.7M1067.9 450.7H1080.9M1067.9 551.7H1080.9M1076.7 449.7V551.6M1070.2 449.7H1083.2M1070.2 551.6H1083.2M1079 453V549.6M1072.5 453H1085.5M1072.5 549.6H1085.5M1081.3 448.3V549.8M1074.8 448.3H1087.8M1074.8 549.8H1087.8M1083.6 453.6V547.9M1077.1 453.6H1090.1M1077.1 547.9H1090.1M1085.9 452V549M1079.4 452H1092.4M1079.4 549H1092.4M1088.2 451.3V548M1081.7 451.3H1094.7M1081.7 548H1094.7M1090.5 452V546.1M1084 452H1097M1084 546.1H1097M1092.8 450.9V547.8M1086.3 450.9H1099.3M1086.3 547.8H1099.3M1095.1 453.8V548.9M1088.6 453.8H1101.6M1088.6 548.9H1101.6M1097.4 453.5V549.2M1090.9 453.5H1103.9M1090.9 549.2H1103.9M1099.8 449.3V549.8M1093.3 449.3H1106.3M1093.3 549.8H1106.3M1102.1 454.3V537.3M1095.6 454.3H1108.6M1095.6 537.3H1108.6M1104.4 450.4V519.4M1097.9 450.4H1110.9M1097.9 519.4H1110.9M1106.7 430.1V495.5M1100.2 430.1H1113.2M1100.2 495.5H1113.2M1109 402.4V472.6M1102.5 402.4H1115.5M1102.5 472.6H1115.5M1111.3 389V439M1104.8 389H1117.8M1104.8 439H1117.8M1113.6 351V453M1107.1 351H1120.1M1107.1 453H1120.1M1115.9 405.4V443.1M1109.4 405.4H1122.4M1109.4 443.1H1122.4M1118.2 407.1V442.6M1111.7 407.1H1124.7M1111.7 442.6H1124.7M1120.5 412.5V446.3M1114 412.5H1127M1114 446.3H1127M1122.8 412.9V446M1116.3 412.9H1129.3M1116.3 446H1129.3M1125.1 414.1V443.5M1118.6 414.1H1131.6M1118.6 443.5H1131.6M1127.5 416.2V446.3M1121 416.2H1134M1121 446.3H1134M1129.8 414.6V444.8M1123.3 414.6H1136.3M1123.3 444.8H1136.3M1132.1 415.9V445M1125.6 415.9H1138.6M1125.6 445H1138.6M1134.4 415.1V445.1M1127.9 415.1H1140.9M1127.9 445.1H1140.9M1136.7 418.6V448.2M1130.2 418.6H1143.2M1130.2 448.2H1143.2M1139 420.1V448.1M1132.5 420.1H1145.5M1132.5 448.1H1145.5M1141.3 418.2V447.2M1134.8 418.2H1147.8M1134.8 447.2H1147.8M1143.6 420.8V450.7M1137.1 420.8H1150.1M1137.1 450.7H1150.1M1145.9 420.9V449M1139.4 420.9H1152.4M1139.4 449H1152.4M1148.2 421.7V450.3M1141.7 421.7H1154.7M1141.7 450.3H1154.7M1150.5 424.5V452.2M1144 424.5H1157M1144 452.2H1157M1152.8 424.5V453.3M1146.3 424.5H1159.3M1146.3 453.3H1159.3M1155.2 425.5V454.3M1148.7 425.5H1161.7M1148.7 454.3H1161.7M1157.5 426.3V453.9M1151 426.3H1164M1151 453.9H1164" stroke="#595959" stroke-width="2" fill="none"/>
<path d="M695.8 450.6V547.9M698.1 450V552.8M700.4 455.3V557M702.7 455.3V553.7M705 454.5V554.7M707.3 454.2V554.5M709.6 452.5V557M712 456.3V557.7M714.3 452.5V557.4M716.6 455.2V555.3M718.9 454.2V554.7M721.2 455.2V556.7M723.5 454.3V556M725.8 454.7V554.6M728.1 454.4V555.5M730.4 455.8V554M732.7 455.7V555.8M735 455.3V557.9M737.3 455.3V559.1M739.7 454.3V560M742 455.5V556.9M744.3 458V558.1M746.6 455.2V559.5M748.9 452.4V558.3M751.2 455.8V560.2M753.5 454.5V560.6M755.8 453.9V557.7M758.1 453.7V560.2M760.4 454.4V561M762.7 458.1V554.2M765 474.9V535.7M767.4 464.7V520.1M769.7 449V503.8M772 431.8V486.2M774.3 411.7V463M776.6 384.9V446M778.9 370V420M781.2 347V429M783.5 364.5V414.5M785.8 368.7V416M788.1 370.2V417.4M790.4 369.5V416M792.8 372.2V417.7M795.1 371.5V419M797.4 372.5V417M799.7 372.5V417.3M802 374.3V417.9M804.3 375.6V416.4M806.6 374.5V415.1M808.9 377V416.8M811.2 377.7V415.7M813.5 376.5V414.4M815.8 378.7V417M818.1 380.7V416.8M820.4 381.1V417.4M822.8 381.5V418.5M825.1 382.8V421.9M827.4 386V429.3M829.7 388.1V431.7M832 395.6V448.7M834.3 402.4V460.8M836.6 405.5V475.7M838.9 411.5V488.1M841.2 415.8V499.1M843.5 423.2V509.8M845.8 425.1V520.4M848.1 428.1V530.9M850.5 427.9V537M852.8 437.9V538.3M855.1 440.1V543M857.4 446V546M859.7 447.5V546.5M862 448.1V550.8M864.3 447.6V549.6M866.6 452.8V549.8M868.9 450.8V552.5M871.2 452.6V550.9M873.5 450.7V549.8M875.8 451.9V552.6M878.2 450.8V550.2M880.5 452.1V548.5M882.8 448.5V551.1M885.1 448.6V552.1M887.4 451.2V549.3M889.7 452.3V549.8M892 448.8V552.4M894.3 450.9V553.4M896.6 449.7V553M898.9 452.1V552.5M901.2 453.5V549.9M903.5 451.9V551.5M905.9 451.2V552.3M908.2 452.2V548.6M910.5 453.8V550.8M912.8 451.7V550.4M915.1 449.7V551.6M917.4 453.7V551.8M919.7 452.7V551.1M922 452.1V551.3M924.3 452V549.3M926.6 449.3V552.5M928.9 453V550.7M931.2 451.2V555.2M933.6 451.3V543M935.9 455V524M938.2 445V501.4M940.5 427.4V481.4M942.8 405.6V459M945.1 386.1V437.1M947.4 378V418M949.7 364V416M952 385.6V422.8M954.3 403.3V426.6M956.6 406.2V426.1M958.9 410.5V429.3M961.3 410.3V428.6M963.6 411V429.2M965.9 412.8V431.1M968.2 413.6V430.3M970.5 411.1V428.2M972.8 414.3V430.7M975.1 414.1V429.5M977.4 412.7V430.1M979.7 413.9V432M982 415V433.1M984.3 412.9V431.7M986.6 414.1V434.5M989 415.7V437M991.3 415.1V437.3M993.6 415.7V443.4M995.9 415.5V451.9M998.2 417.2V462.3M1000.5 422V473.2M1002.8 422.6V482.6M1005.1 424.9V496.5M1007.4 426.6V503.6M1009.7 427.5V517M1012 432.9V522.5M1014.3 437.5V527.3M1016.7 438V533.1M1019 442.4V540.7M1021.3 445V542.8M1023.6 445.3V541.4M1025.9 447.1V546.7M1028.2 449.2V543.5M1030.5 448.3V547.7M1032.8 449.9V546M1035.1 448.2V549.5M1037.4 450.5V544.8M1039.7 449.5V546.9M1042 451.5V547.2M1044.4 449.9V549.8M1046.7 451.3V547M1049 452.4V548.9M1051.3 452.4V548.3M1053.6 448.7V548.8M1055.9 448.3V549.9M1058.2 452.1V547.6M1060.5 450.5V547.8M1062.8 449.7V551.3M1065.1 450.4V547.5M1067.4 448.3V550M1069.8 451.7V546.2M1072.1 450.1V547.3M1074.4 450.7V551.7M1076.7 449.7V551.6M1079 453V549.6M1081.3 448.3V549.8M1083.6 453.6V547.9M1085.9 452V549M1088.2 451.3V548M1090.5 452V546.1M1092.8 450.9V547.8M1095.1 453.8V548.9M1097.4 453.5V549.2M1099.8 449.3V549.8M1102.1 454.3V537.3M1104.4 450.4V519.4M1106.7 430.1V495.5M1109 402.4V472.6M1111.3 389V439M1113.6 351V453M1115.9 405.4V443.1M1118.2 407.1V442.6M1120.5 412.5V446.3M1122.8 412.9V446M1125.1 414.1V443.5M1127.5 416.2V446.3M1129.8 414.6V444.8M1132.1 415.9V445M1134.4 415.1V445.1M1136.7 418.6V448.2M1139 420.1V448.1M1141.3 418.2V447.2M1143.6 420.8V450.7M1145.9 420.9V449M1148.2 421.7V450.3M1150.5 424.5V452.2M1152.8 424.5V453.3M1155.2 425.5V454.3M1157.5 426.3V453.9" stroke="#595959" stroke-width="2.4" fill="none"/>
<polyline points="695.8,499.3 698.1,501.4 700.4,506.1 702.7,504.5 705,504.6 707.3,504.3 709.6,504.8 712,507 714.3,504.9 716.6,505.3 718.9,504.4 721.2,506 723.5,505.2 725.8,504.7 728.1,505 730.4,504.9 732.7,505.7 735,506.6 737.3,507.2 739.7,507.1 742,506.2 744.3,508.1 746.6,507.3 748.9,505.4 751.2,508 753.5,507.5 755.8,505.8 758.1,507 760.4,507.7 762.7,506.2 765,505.3 767.4,492.4 769.7,476.4 772,459 774.3,437.3 776.6,415.4 778.9,395 781.2,388 783.5,389.5 785.8,392.3 788.1,393.8 790.4,392.8 792.8,395 795.1,395.2 797.4,394.7 799.7,394.9 802,396.1 804.3,396 806.6,394.8 808.9,396.9 811.2,396.7 813.5,395.5 815.8,397.8 818.1,398.8 820.4,399.2 822.8,400 825.1,402.3 827.4,407.7 829.7,409.9 832,422.1 834.3,431.6 836.6,440.6 838.9,449.8 841.2,457.4 843.5,466.5 845.8,472.8 848.1,479.5 850.5,482.4 852.8,488.1 855.1,491.5 857.4,496 859.7,497 862,499.4 864.3,498.6 866.6,501.3 868.9,501.7 871.2,501.7 873.5,500.3 875.8,502.3 878.2,500.5 880.5,500.3 882.8,499.8 885.1,500.4 887.4,500.2 889.7,501 892,500.6 894.3,502.2 896.6,501.4 898.9,502.3 901.2,501.7 903.5,501.7 905.9,501.8 908.2,500.4 910.5,502.3 912.8,501 915.1,500.6 917.4,502.8 919.7,501.9 922,501.7 924.3,500.7 926.6,500.9 928.9,501.9 931.2,503.2 933.6,497.2 935.9,489.5 938.2,473.2 940.5,454.4 942.8,432.3 945.1,411.6 947.4,398 949.7,390 952,404.2 954.3,414.9 956.6,416.2 958.9,419.9 961.3,419.4 963.6,420.1 965.9,421.9 968.2,421.9 970.5,419.6 972.8,422.5 975.1,421.8 977.4,421.4 979.7,422.9 982,424.1 984.3,422.3 986.6,424.3 989,426.3 991.3,426.2 993.6,429.5 995.9,433.7 998.2,439.7 1000.5,447.6 1002.8,452.6 1005.1,460.7 1007.4,465.1 1009.7,472.2 1012,477.7 1014.3,482.4 1016.7,485.6 1019,491.6 1021.3,493.9 1023.6,493.4 1025.9,496.9 1028.2,496.3 1030.5,498 1032.8,497.9 1035.1,498.8 1037.4,497.7 1039.7,498.2 1042,499.4 1044.4,499.8 1046.7,499.1 1049,500.7 1051.3,500.4 1053.6,498.7 1055.9,499.1 1058.2,499.9 1060.5,499.2 1062.8,500.5 1065.1,498.9 1067.4,499.1 1069.8,498.9 1072.1,498.7 1074.4,501.2 1076.7,500.7 1079,501.3 1081.3,499.1 1083.6,500.7 1085.9,500.5 1088.2,499.6 1090.5,499 1092.8,499.3 1095.1,501.4 1097.4,501.4 1099.8,499.6 1102.1,495.8 1104.4,484.9 1106.7,462.8 1109,437.5 1111.3,414 1113.6,402 1115.9,424.3 1118.2,424.8 1120.5,429.4 1122.8,429.5 1125.1,428.8 1127.5,431.2 1129.8,429.7 1132.1,430.5 1134.4,430.1 1136.7,433.4 1139,434.1 1141.3,432.7 1143.6,435.8 1145.9,435 1148.2,436 1150.5,438.4 1152.8,438.9 1155.2,439.9 1157.5,440.1" stroke="#4472C4" stroke-width="7" fill="none" stroke-linejoin="round"/>
<g fill="#4472C4"><circle cx="695.8" cy="499.3" r="6.6"/><circle cx="698.1" cy="501.4" r="6.6"/><circle cx="700.4" cy="506.1" r="6.6"/><circle cx="702.7" cy="504.5" r="6.6"/><circle cx="705" cy="504.6" r="6.6"/><circle cx="707.3" cy="504.3" r="6.6"/><circle cx="709.6" cy="504.8" r="6.6"/><circle cx="712" cy="507" r="6.6"/><circle cx="714.3" cy="504.9" r="6.6"/><circle cx="716.6" cy="505.3" r="6.6"/><circle cx="718.9" cy="504.4" r="6.6"/><circle cx="721.2" cy="506" r="6.6"/><circle cx="723.5" cy="505.2" r="6.6"/><circle cx="725.8" cy="504.7" r="6.6"/><circle cx="728.1" cy="505" r="6.6"/><circle cx="730.4" cy="504.9" r="6.6"/><circle cx="732.7" cy="505.7" r="6.6"/><circle cx="735" cy="506.6" r="6.6"/><circle cx="737.3" cy="507.2" r="6.6"/><circle cx="739.7" cy="507.1" r="6.6"/><circle cx="742" cy="506.2" r="6.6"/><circle cx="744.3" cy="508.1" r="6.6"/><circle cx="746.6" cy="507.3" r="6.6"/><circle cx="748.9" cy="505.4" r="6.6"/><circle cx="751.2" cy="508" r="6.6"/><circle cx="753.5" cy="507.5" r="6.6"/><circle cx="755.8" cy="505.8" r="6.6"/><circle cx="758.1" cy="507" r="6.6"/><circle cx="760.4" cy="507.7" r="6.6"/><circle cx="762.7" cy="506.2" r="6.6"/><circle cx="765" cy="505.3" r="6.6"/><circle cx="767.4" cy="492.4" r="6.6"/><circle cx="769.7" cy="476.4" r="6.6"/><circle cx="772" cy="459" r="6.6"/><circle cx="774.3" cy="437.3" r="6.6"/><circle cx="776.6" cy="415.4" r="6.6"/><circle cx="778.9" cy="395" r="6.6"/><circle cx="781.2" cy="388" r="6.6"/><circle cx="783.5" cy="389.5" r="6.6"/><circle cx="785.8" cy="392.3" r="6.6"/><circle cx="788.1" cy="393.8" r="6.6"/><circle cx="790.4" cy="392.8" r="6.6"/><circle cx="792.8" cy="395" r="6.6"/><circle cx="795.1" cy="395.2" r="6.6"/><circle cx="797.4" cy="394.7" r="6.6"/><circle cx="799.7" cy="394.9" r="6.6"/><circle cx="802" cy="396.1" r="6.6"/><circle cx="804.3" cy="396" r="6.6"/><circle cx="806.6" cy="394.8" r="6.6"/><circle cx="808.9" cy="396.9" r="6.6"/><circle cx="811.2" cy="396.7" r="6.6"/><circle cx="813.5" cy="395.5" r="6.6"/><circle cx="815.8" cy="397.8" r="6.6"/><circle cx="818.1" cy="398.8" r="6.6"/><circle cx="820.4" cy="399.2" r="6.6"/><circle cx="822.8" cy="400" r="6.6"/><circle cx="825.1" cy="402.3" r="6.6"/><circle cx="827.4" cy="407.7" r="6.6"/><circle cx="829.7" cy="409.9" r="6.6"/><circle cx="832" cy="422.1" r="6.6"/><circle cx="834.3" cy="431.6" r="6.6"/><circle cx="836.6" cy="440.6" r="6.6"/><circle cx="838.9" cy="449.8" r="6.6"/><circle cx="841.2" cy="457.4" r="6.6"/><circle cx="843.5" cy="466.5" r="6.6"/><circle cx="845.8" cy="472.8" r="6.6"/><circle cx="848.1" cy="479.5" r="6.6"/><circle cx="850.5" cy="482.4" r="6.6"/><circle cx="852.8" cy="488.1" r="6.6"/><circle cx="855.1" cy="491.5" r="6.6"/><circle cx="857.4" cy="496" r="6.6"/><circle cx="859.7" cy="497" r="6.6"/><circle cx="862" cy="499.4" r="6.6"/><circle cx="864.3" cy="498.6" r="6.6"/><circle cx="866.6" cy="501.3" r="6.6"/><circle cx="868.9" cy="501.7" r="6.6"/><circle cx="871.2" cy="501.7" r="6.6"/><circle cx="873.5" cy="500.3" r="6.6"/><circle cx="875.8" cy="502.3" r="6.6"/><circle cx="878.2" cy="500.5" r="6.6"/><circle cx="880.5" cy="500.3" r="6.6"/><circle cx="882.8" cy="499.8" r="6.6"/><circle cx="885.1" cy="500.4" r="6.6"/><circle cx="887.4" cy="500.2" r="6.6"/><circle cx="889.7" cy="501" r="6.6"/><circle cx="892" cy="500.6" r="6.6"/><circle cx="894.3" cy="502.2" r="6.6"/><circle cx="896.6" cy="501.4" r="6.6"/><circle cx="898.9" cy="502.3" r="6.6"/><circle cx="901.2" cy="501.7" r="6.6"/><circle cx="903.5" cy="501.7" r="6.6"/><circle cx="905.9" cy="501.8" r="6.6"/><circle cx="908.2" cy="500.4" r="6.6"/><circle cx="910.5" cy="502.3" r="6.6"/><circle cx="912.8" cy="501" r="6.6"/><circle cx="915.1" cy="500.6" r="6.6"/><circle cx="917.4" cy="502.8" r="6.6"/><circle cx="919.7" cy="501.9" r="6.6"/><circle cx="922" cy="501.7" r="6.6"/><circle cx="924.3" cy="500.7" r="6.6"/><circle cx="926.6" cy="500.9" r="6.6"/><circle cx="928.9" cy="501.9" r="6.6"/><circle cx="931.2" cy="503.2" r="6.6"/><circle cx="933.6" cy="497.2" r="6.6"/><circle cx="935.9" cy="489.5" r="6.6"/><circle cx="938.2" cy="473.2" r="6.6"/><circle cx="940.5" cy="454.4" r="6.6"/><circle cx="942.8" cy="432.3" r="6.6"/><circle cx="945.1" cy="411.6" r="6.6"/><circle cx="947.4" cy="398" r="6.6"/><circle cx="949.7" cy="390" r="6.6"/><circle cx="952" cy="404.2" r="6.6"/><circle cx="954.3" cy="414.9" r="6.6"/><circle cx="956.6" cy="416.2" r="6.6"/><circle cx="958.9" cy="419.9" r="6.6"/><circle cx="961.3" cy="419.4" r="6.6"/><circle cx="963.6" cy="420.1" r="6.6"/><circle cx="965.9" cy="421.9" r="6.6"/><circle cx="968.2" cy="421.9" r="6.6"/><circle cx="970.5" cy="419.6" r="6.6"/><circle cx="972.8" cy="422.5" r="6.6"/><circle cx="975.1" cy="421.8" r="6.6"/><circle cx="977.4" cy="421.4" r="6.6"/><circle cx="979.7" cy="422.9" r="6.6"/><circle cx="982" cy="424.1" r="6.6"/><circle cx="984.3" cy="422.3" r="6.6"/><circle cx="986.6" cy="424.3" r="6.6"/><circle cx="989" cy="426.3" r="6.6"/><circle cx="991.3" cy="426.2" r="6.6"/><circle cx="993.6" cy="429.5" r="6.6"/><circle cx="995.9" cy="433.7" r="6.6"/><circle cx="998.2" cy="439.7" r="6.6"/><circle cx="1000.5" cy="447.6" r="6.6"/><circle cx="1002.8" cy="452.6" r="6.6"/><circle cx="1005.1" cy="460.7" r="6.6"/><circle cx="1007.4" cy="465.1" r="6.6"/><circle cx="1009.7" cy="472.2" r="6.6"/><circle cx="1012" cy="477.7" r="6.6"/><circle cx="1014.3" cy="482.4" r="6.6"/><circle cx="1016.7" cy="485.6" r="6.6"/><circle cx="1019" cy="491.6" r="6.6"/><circle cx="1021.3" cy="493.9" r="6.6"/><circle cx="1023.6" cy="493.4" r="6.6"/><circle cx="1025.9" cy="496.9" r="6.6"/><circle cx="1028.2" cy="496.3" r="6.6"/><circle cx="1030.5" cy="498" r="6.6"/><circle cx="1032.8" cy="497.9" r="6.6"/><circle cx="1035.1" cy="498.8" r="6.6"/><circle cx="1037.4" cy="497.7" r="6.6"/><circle cx="1039.7" cy="498.2" r="6.6"/><circle cx="1042" cy="499.4" r="6.6"/><circle cx="1044.4" cy="499.8" r="6.6"/><circle cx="1046.7" cy="499.1" r="6.6"/><circle cx="1049" cy="500.7" r="6.6"/><circle cx="1051.3" cy="500.4" r="6.6"/><circle cx="1053.6" cy="498.7" r="6.6"/><circle cx="1055.9" cy="499.1" r="6.6"/><circle cx="1058.2" cy="499.9" r="6.6"/><circle cx="1060.5" cy="499.2" r="6.6"/><circle cx="1062.8" cy="500.5" r="6.6"/><circle cx="1065.1" cy="498.9" r="6.6"/><circle cx="1067.4" cy="499.1" r="6.6"/><circle cx="1069.8" cy="498.9" r="6.6"/><circle cx="1072.1" cy="498.7" r="6.6"/><circle cx="1074.4" cy="501.2" r="6.6"/><circle cx="1076.7" cy="500.7" r="6.6"/><circle cx="1079" cy="501.3" r="6.6"/><circle cx="1081.3" cy="499.1" r="6.6"/><circle cx="1083.6" cy="500.7" r="6.6"/><circle cx="1085.9" cy="500.5" r="6.6"/><circle cx="1088.2" cy="499.6" r="6.6"/><circle cx="1090.5" cy="499" r="6.6"/><circle cx="1092.8" cy="499.3" r="6.6"/><circle cx="1095.1" cy="501.4" r="6.6"/><circle cx="1097.4" cy="501.4" r="6.6"/><circle cx="1099.8" cy="499.6" r="6.6"/><circle cx="1102.1" cy="495.8" r="6.6"/><circle cx="1104.4" cy="484.9" r="6.6"/><circle cx="1106.7" cy="462.8" r="6.6"/><circle cx="1109" cy="437.5" r="6.6"/><circle cx="1111.3" cy="414" r="6.6"/><circle cx="1113.6" cy="402" r="6.6"/><circle cx="1115.9" cy="424.3" r="6.6"/><circle cx="1118.2" cy="424.8" r="6.6"/><circle cx="1120.5" cy="429.4" r="6.6"/><circle cx="1122.8" cy="429.5" r="6.6"/><circle cx="1125.1" cy="428.8" r="6.6"/><circle cx="1127.5" cy="431.2" r="6.6"/><circle cx="1129.8" cy="429.7" r="6.6"/><circle cx="1132.1" cy="430.5" r="6.6"/><circle cx="1134.4" cy="430.1" r="6.6"/><circle cx="1136.7" cy="433.4" r="6.6"/><circle cx="1139" cy="434.1" r="6.6"/><circle cx="1141.3" cy="432.7" r="6.6"/><circle cx="1143.6" cy="435.8" r="6.6"/><circle cx="1145.9" cy="435" r="6.6"/><circle cx="1148.2" cy="436" r="6.6"/><circle cx="1150.5" cy="438.4" r="6.6"/><circle cx="1152.8" cy="438.9" r="6.6"/><circle cx="1155.2" cy="439.9" r="6.6"/><circle cx="1157.5" cy="440.1" r="6.6"/></g>
<polyline points="705.5,506.1 728.7,504.4 752.2,508.9 774.6,444 797.7,393.9 818.5,402.5 840.9,454.3 864.4,495.1 886.8,499.9 910.3,501.6 930.7,489.5 954.2,420.5 976.6,425 999,447.4 1022.2,489.5 1044.6,499.2 1066.4,499.9 1088.8,501.6 1111.3,448.1 1134.7,437.7" stroke="#ED7D31" stroke-width="3" fill="none" stroke-linejoin="round"/>
<g fill="#ED7D31"><circle cx="705.5" cy="506.1" r="6.3"/><circle cx="728.7" cy="504.4" r="6.3"/><circle cx="752.2" cy="508.9" r="6.3"/><circle cx="774.6" cy="444" r="6.3"/><circle cx="797.7" cy="393.9" r="6.3"/><circle cx="818.5" cy="402.5" r="6.3"/><circle cx="840.9" cy="454.3" r="6.3"/><circle cx="864.4" cy="495.1" r="6.3"/><circle cx="886.8" cy="499.9" r="6.3"/><circle cx="910.3" cy="501.6" r="6.3"/><circle cx="930.7" cy="489.5" r="6.3"/><circle cx="954.2" cy="420.5" r="6.3"/><circle cx="976.6" cy="425" r="6.3"/><circle cx="999" cy="447.4" r="6.3"/><circle cx="1022.2" cy="489.5" r="6.3"/><circle cx="1044.6" cy="499.2" r="6.3"/><circle cx="1066.4" cy="499.9" r="6.3"/><circle cx="1088.8" cy="501.6" r="6.3"/><circle cx="1111.3" cy="448.1" r="6.3"/><circle cx="1134.7" cy="437.7" r="6.3"/></g>
<rect x="695.8" y="117.5" width="483.7" height="455.2" fill="none" stroke="#000" stroke-width="2.2"/>
<path d="M686.3 572.7H695.8M686.3 458.9H695.8M686.3 345.1H695.8M686.3 231.3H695.8M686.3 117.5H695.8M695.8 572.7V581.2M834.3 572.7V581.2M972.8 572.7V581.2M1111.3 572.7V581.2" stroke="#000" stroke-width="2.2" fill="none"/>
<text x="670.5" y="582.7" font-family='"Liberation Sans", Arial, sans-serif' font-size="26" text-anchor="end" fill="#000">0</text>
<text x="672.3" y="468.9" font-family='"Liberation Sans", Arial, sans-serif' font-size="26" text-anchor="end" fill="#000" textLength="39" lengthAdjust="spacingAndGlyphs">0.5</text>
<text x="670.5" y="355.1" font-family='"Liberation Sans", Arial, sans-serif' font-size="26" text-anchor="end" fill="#000">1</text>
<text x="672.3" y="241.3" font-family='"Liberation Sans", Arial, sans-serif' font-size="26" text-anchor="end" fill="#000" textLength="39" lengthAdjust="spacingAndGlyphs">1.5</text>
<text x="670.5" y="127.5" font-family='"Liberation Sans", Arial, sans-serif' font-size="26" text-anchor="end" fill="#000">2</text>
<text x="695.8" y="617.8" font-family='"Liberation Sans", Arial, sans-serif' font-size="26" text-anchor="middle" fill="#000">0</text>
<text x="834.3" y="617.8" font-family='"Liberation Sans", Arial, sans-serif' font-size="26" text-anchor="middle" fill="#000">20</text>
<text x="972.8" y="617.8" font-family='"Liberation Sans", Arial, sans-serif' font-size="26" text-anchor="middle" fill="#000">40</text>
<text x="1111.3" y="617.8" font-family='"Liberation Sans", Arial, sans-serif' font-size="26" text-anchor="middle" fill="#000">60</text>
<line x1="902.9" y1="152.1" x2="958.2" y2="152.1" stroke="#3a68c6" stroke-width="3.6"/>
<circle cx="933" cy="154.1" r="6" fill="#4472C4"/>
<line x1="902.9" y1="195.6" x2="958.2" y2="195.6" stroke="#ED7D31" stroke-width="3.8"/>
<circle cx="933" cy="196.6" r="6.3" fill="#ED7D31"/>
<text x="962.1" y="162.4" font-family='"Liberation Sans", Arial, sans-serif' font-size="24.7" fill="#000" textLength="113.3" lengthAdjust="spacingAndGlyphs">Raw data</text>
<text x="962.1" y="205.8" font-family='"Liberation Sans", Arial, sans-serif' font-size="24.7" fill="#000" textLength="194.5" lengthAdjust="spacingAndGlyphs">Moving average</text>
<text x="706.8" y="45.9" font-family='"Liberation Sans", Arial, sans-serif' font-size="34" fill="#000" textLength="170" lengthAdjust="spacingAndGlyphs">P-deficient</text>
<rect x="1283.2" y="81.6" width="485.8" height="28.9" fill="#000"/>
<rect x="1372.7" y="83.6" width="84.6" height="24.9" fill="#fff"/>
<rect x="1546.8" y="83.6" width="81.2" height="24.9" fill="#fff"/>
<rect x="1717.3" y="83.6" width="49.7" height="24.9" fill="#fff"/>
<path d="M1284.1 463.5V518.9M1277.6 463.5H1290.6M1277.6 518.9H1290.6M1286.4 476.7V526.4M1279.9 476.7H1292.9M1279.9 526.4H1292.9M1288.7 478.4V529.6M1282.2 478.4H1295.2M1282.2 529.6H1295.2M1291 485.4V528.5M1284.5 485.4H1297.5M1284.5 528.5H1297.5M1293.3 485.3V531.2M1286.8 485.3H1299.8M1286.8 531.2H1299.8M1295.6 486.1V538.1M1289.1 486.1H1302.1M1289.1 538.1H1302.1M1297.9 490.1V542.1M1291.4 490.1H1304.4M1291.4 542.1H1304.4M1300.3 491.7V534.3M1293.8 491.7H1306.8M1293.8 534.3H1306.8M1302.6 490.2V535M1296.1 490.2H1309.1M1296.1 535H1309.1M1304.9 494.8V538.9M1298.4 494.8H1311.4M1298.4 538.9H1311.4M1307.2 492.8V536.5M1300.7 492.8H1313.7M1300.7 536.5H1313.7M1309.5 494.5V540.7M1303 494.5H1316M1303 540.7H1316M1311.8 494.5V542.9M1305.3 494.5H1318.3M1305.3 542.9H1318.3M1314.1 497.5V539.3M1307.6 497.5H1320.6M1307.6 539.3H1320.6M1316.4 498.6V540.8M1309.9 498.6H1322.9M1309.9 540.8H1322.9M1318.7 497V539.6M1312.2 497H1325.2M1312.2 539.6H1325.2M1321 498.8V540.3M1314.5 498.8H1327.5M1314.5 540.3H1327.5M1323.3 496V537.6M1316.8 496H1329.8M1316.8 537.6H1329.8M1325.6 492.5V540.5M1319.1 492.5H1332.1M1319.1 540.5H1332.1M1328 498.4V540.1M1321.5 498.4H1334.5M1321.5 540.1H1334.5M1330.3 493.6V543.1M1323.8 493.6H1336.8M1323.8 543.1H1336.8M1332.6 498.4V539.3M1326.1 498.4H1339.1M1326.1 539.3H1339.1M1334.9 498.5V542.6M1328.4 498.5H1341.4M1328.4 542.6H1341.4M1337.2 501.4V541.6M1330.7 501.4H1343.7M1330.7 541.6H1343.7M1339.5 495.3V541.2M1333 495.3H1346M1333 541.2H1346M1341.8 496.7V543.9M1335.3 496.7H1348.3M1335.3 543.9H1348.3M1344.1 495.1V535.5M1337.6 495.1H1350.6M1337.6 535.5H1350.6M1346.4 494.6V533.9M1339.9 494.6H1352.9M1339.9 533.9H1352.9M1348.7 493.9V535.4M1342.2 493.9H1355.2M1342.2 535.4H1355.2M1351 484.9V523.5M1344.5 484.9H1357.5M1344.5 523.5H1357.5M1353.3 471.7V510.7M1346.8 471.7H1359.8M1346.8 510.7H1359.8M1355.7 441.4V486.1M1349.2 441.4H1362.2M1349.2 486.1H1362.2M1358 432.8V469M1351.5 432.8H1364.5M1351.5 469H1364.5M1360.3 397.6V439.8M1353.8 397.6H1366.8M1353.8 439.8H1366.8M1362.6 343.1V381M1356.1 343.1H1369.1M1356.1 381H1369.1M1364.9 321.7V357.5M1358.4 321.7H1371.4M1358.4 357.5H1371.4M1367.2 301.9V346.3M1360.7 301.9H1373.7M1360.7 346.3H1373.7M1369.5 290V327.2M1363 290H1376M1363 327.2H1376M1371.8 266V305.6M1365.3 266H1378.3M1365.3 305.6H1378.3M1374.1 262.2V298.9M1367.6 262.2H1380.6M1367.6 298.9H1380.6M1376.4 253.8V290.7M1369.9 253.8H1382.9M1369.9 290.7H1382.9M1378.7 246.9V295.1M1372.2 246.9H1385.2M1372.2 295.1H1385.2M1381 245.7V281.8M1374.5 245.7H1387.5M1374.5 281.8H1387.5M1383.4 239.9V288.8M1376.9 239.9H1389.9M1376.9 288.8H1389.9M1385.7 246.2V282.7M1379.2 246.2H1392.2M1379.2 282.7H1392.2M1388 231.4V289M1381.5 231.4H1394.5M1381.5 289H1394.5M1390.3 240.3V280.5M1383.8 240.3H1396.8M1383.8 280.5H1396.8M1392.6 221V298.2M1386.1 221H1399.1M1386.1 298.2H1399.1M1394.9 233.6V285.2M1388.4 233.6H1401.4M1388.4 285.2H1401.4M1397.2 236.8V282.1M1390.7 236.8H1403.7M1390.7 282.1H1403.7M1399.5 220.9V303.6M1393 220.9H1406M1393 303.6H1406M1401.8 239.1V278.9M1395.3 239.1H1408.3M1395.3 278.9H1408.3M1404.1 240.9V281M1397.6 240.9H1410.6M1397.6 281H1410.6M1406.4 218.4V294.4M1399.9 218.4H1412.9M1399.9 294.4H1412.9M1408.8 223.6V293.7M1402.2 223.6H1415.2M1402.2 293.7H1415.2M1411.1 220.9V296.4M1404.6 220.9H1417.6M1404.6 296.4H1417.6M1413.4 239.2V279.7M1406.9 239.2H1419.9M1406.9 279.7H1419.9M1415.7 230.3V284.2M1409.2 230.3H1422.2M1409.2 284.2H1422.2M1418 221.8V301.1M1411.5 221.8H1424.5M1411.5 301.1H1424.5M1420.3 229.4V287.7M1413.8 229.4H1426.8M1413.8 287.7H1426.8M1422.6 235.8V285.7M1416.1 235.8H1429.1M1416.1 285.7H1429.1M1424.9 239.7V280M1418.4 239.7H1431.4M1418.4 280H1431.4M1427.2 231.6V303M1420.7 231.6H1433.7M1420.7 303H1433.7M1429.5 248.5V291.9M1423 248.5H1436M1423 291.9H1436M1431.8 249.5V317.8M1425.3 249.5H1438.3M1425.3 317.8H1438.3M1434.1 285.5V323.6M1427.6 285.5H1440.6M1427.6 323.6H1440.6M1436.4 312.5V373.2M1429.9 312.5H1442.9M1429.9 373.2H1442.9M1438.8 356.3V396.2M1432.3 356.3H1445.3M1432.3 396.2H1445.3M1441.1 403.4V445.3M1434.6 403.4H1447.6M1434.6 445.3H1447.6M1443.4 429.4V474M1436.9 429.4H1449.9M1436.9 474H1449.9M1445.7 453.8V492.6M1439.2 453.8H1452.2M1439.2 492.6H1452.2M1448 464.7V503.1M1441.5 464.7H1454.5M1441.5 503.1H1454.5M1450.3 465.9V512.6M1443.8 465.9H1456.8M1443.8 512.6H1456.8M1452.6 478.4V515.2M1446.1 478.4H1459.1M1446.1 515.2H1459.1M1454.9 479.3V517M1448.4 479.3H1461.4M1448.4 517H1461.4M1457.2 484.4V522.2M1450.7 484.4H1463.7M1450.7 522.2H1463.7M1459.5 485.8V522.7M1453 485.8H1466M1453 522.7H1466M1461.8 487.8V534.4M1455.3 487.8H1468.3M1455.3 534.4H1468.3M1464.1 488.8V529.4M1457.6 488.8H1470.6M1457.6 529.4H1470.6M1466.5 497V533.9M1460 497H1473M1460 533.9H1473M1468.8 499.3V536.6M1462.3 499.3H1475.3M1462.3 536.6H1475.3M1471.1 497V538.2M1464.6 497H1477.6M1464.6 538.2H1477.6M1473.4 498.5V537.3M1466.9 498.5H1479.9M1466.9 537.3H1479.9M1475.7 495.7V537.8M1469.2 495.7H1482.2M1469.2 537.8H1482.2M1478 495.1V538.6M1471.5 495.1H1484.5M1471.5 538.6H1484.5M1480.3 496.7V537.4M1473.8 496.7H1486.8M1473.8 537.4H1486.8M1482.6 492.9V536.2M1476.1 492.9H1489.1M1476.1 536.2H1489.1M1484.9 497.7V537.2M1478.4 497.7H1491.4M1478.4 537.2H1491.4M1487.2 495.8V542.5M1480.7 495.8H1493.7M1480.7 542.5H1493.7M1489.5 497.5V537.3M1483 497.5H1496M1483 537.3H1496M1491.8 497.7V537.4M1485.3 497.7H1498.3M1485.3 537.4H1498.3M1494.2 494.5V536.6M1487.7 494.5H1500.7M1487.7 536.6H1500.7M1496.5 494.2V536.7M1490 494.2H1503M1490 536.7H1503M1498.8 497.8V538.2M1492.3 497.8H1505.3M1492.3 538.2H1505.3M1501.1 497.9V538.6M1494.6 497.9H1507.6M1494.6 538.6H1507.6M1503.4 493.5V541.9M1496.9 493.5H1509.9M1496.9 541.9H1509.9M1505.7 494.6V535.9M1499.2 494.6H1512.2M1499.2 535.9H1512.2M1508 492.3V535.7M1501.5 492.3H1514.5M1501.5 535.7H1514.5M1510.3 481.1V523M1503.8 481.1H1516.8M1503.8 523H1516.8M1512.6 461.3V515.9M1506.1 461.3H1519.1M1506.1 515.9H1519.1M1514.9 451V500.4M1508.4 451H1521.4M1508.4 500.4H1521.4M1517.2 426.1V485.3M1510.7 426.1H1523.7M1510.7 485.3H1523.7M1519.5 404.5V467.4M1513 404.5H1526M1513 467.4H1526M1521.9 380.9V423.2M1515.4 380.9H1528.4M1515.4 423.2H1528.4M1524.2 339.6V410.3M1517.7 339.6H1530.7M1517.7 410.3H1530.7M1526.5 317.6V365.3M1520 317.6H1533M1520 365.3H1533M1528.8 299V345.1M1522.3 299H1535.3M1522.3 345.1H1535.3M1531.1 270.8V319.6M1524.6 270.8H1537.6M1524.6 319.6H1537.6M1533.4 267.7V313.7M1526.9 267.7H1539.9M1526.9 313.7H1539.9M1535.7 246.3V325.5M1529.2 246.3H1542.2M1529.2 325.5H1542.2M1538 259.7V307.6M1531.5 259.7H1544.5M1531.5 307.6H1544.5M1540.3 260.2V309.8M1533.8 260.2H1546.8M1533.8 309.8H1546.8M1542.6 258.2V305.2M1536.1 258.2H1549.1M1536.1 305.2H1549.1M1544.9 240.6V323.3M1538.4 240.6H1551.4M1538.4 323.3H1551.4M1547.2 245V325.1M1540.8 245H1553.8M1540.8 325.1H1553.8M1549.6 245.6V318.4M1543.1 245.6H1556.1M1543.1 318.4H1556.1M1551.9 252.2V311.2M1545.4 252.2H1558.4M1545.4 311.2H1558.4M1554.2 258.4V311.2M1547.7 258.4H1560.7M1547.7 311.2H1560.7M1556.5 255.8V316.7M1550 255.8H1563M1550 316.7H1563M1558.8 243.6V325.4M1552.3 243.6H1565.3M1552.3 325.4H1565.3M1561.1 235.9V327.3M1554.6 235.9H1567.6M1554.6 327.3H1567.6M1563.4 257.1V312.5M1556.9 257.1H1569.9M1556.9 312.5H1569.9M1565.7 259.8V311.8M1559.2 259.8H1572.2M1559.2 311.8H1572.2M1568 254.9V319M1561.5 254.9H1574.5M1561.5 319H1574.5M1570.3 245.3V321M1563.8 245.3H1576.8M1563.8 321H1576.8M1572.6 258.1V309.2M1566.1 258.1H1579.1M1566.1 309.2H1579.1M1574.9 260.4V310.6M1568.4 260.4H1581.4M1568.4 310.6H1581.4M1577.3 259.7V313M1570.8 259.7H1583.8M1570.8 313H1583.8M1579.6 238V333.3M1573.1 238H1586.1M1573.1 333.3H1586.1M1581.9 250V321.5M1575.4 250H1588.4M1575.4 321.5H1588.4M1584.2 258.9V310.2M1577.7 258.9H1590.7M1577.7 310.2H1590.7M1586.5 256.9V309.6M1580 256.9H1593M1580 309.6H1593M1588.8 256.8V317.6M1582.3 256.8H1595.3M1582.3 317.6H1595.3M1591.1 241.8V332.2M1584.6 241.8H1597.6M1584.6 332.2H1597.6M1593.4 257.6V312.7M1586.9 257.6H1599.9M1586.9 312.7H1599.9M1595.7 263V314.4M1589.2 263H1602.2M1589.2 314.4H1602.2M1598 262.6V314.7M1591.5 262.6H1604.5M1591.5 314.7H1604.5M1600.3 289.4V337.1M1593.8 289.4H1606.8M1593.8 337.1H1606.8M1602.6 309.6V362.2M1596.1 309.6H1609.1M1596.1 362.2H1609.1M1605 333.5V375M1598.5 333.5H1611.5M1598.5 375H1611.5M1607.3 391.8V439.5M1600.8 391.8H1613.8M1600.8 439.5H1613.8M1609.6 425.8V486.9M1603.1 425.8H1616.1M1603.1 486.9H1616.1M1611.9 445.3V490.8M1605.4 445.3H1618.4M1605.4 490.8H1618.4M1614.2 449.8V500.7M1607.7 449.8H1620.7M1607.7 500.7H1620.7M1616.5 461.8V514.9M1610 461.8H1623M1610 514.9H1623M1618.8 473.4V517M1612.3 473.4H1625.3M1612.3 517H1625.3M1621.1 478V526.4M1614.6 478H1627.6M1614.6 526.4H1627.6M1623.4 486.4V530.6M1616.9 486.4H1629.9M1616.9 530.6H1629.9M1625.7 489.2V534.7M1619.2 489.2H1632.2M1619.2 534.7H1632.2M1628 491.2V542.1M1621.5 491.2H1634.5M1621.5 542.1H1634.5M1630.3 485V540.4M1623.8 485H1636.8M1623.8 540.4H1636.8M1632.7 487.9V535.5M1626.2 487.9H1639.2M1626.2 535.5H1639.2M1635 491.9V536.3M1628.5 491.9H1641.5M1628.5 536.3H1641.5M1637.3 485.8V538.6M1630.8 485.8H1643.8M1630.8 538.6H1643.8M1639.6 487.8V536.4M1633.1 487.8H1646.1M1633.1 536.4H1646.1M1641.9 495.6V540.2M1635.4 495.6H1648.4M1635.4 540.2H1648.4M1644.2 488.7V538.7M1637.7 488.7H1650.7M1637.7 538.7H1650.7M1646.5 490.3V541.2M1640 490.3H1653M1640 541.2H1653M1648.8 495V540.5M1642.3 495H1655.3M1642.3 540.5H1655.3M1651.1 491.5V538.1M1644.6 491.5H1657.6M1644.6 538.1H1657.6M1653.4 484.6V541.6M1646.9 484.6H1659.9M1646.9 541.6H1659.9M1655.7 490.8V544M1649.2 490.8H1662.2M1649.2 544H1662.2M1658 484.4V540.8M1651.5 484.4H1664.5M1651.5 540.8H1664.5M1660.4 492.2V541.6M1653.9 492.2H1666.9M1653.9 541.6H1666.9M1662.7 492V541.5M1656.2 492H1669.2M1656.2 541.5H1669.2M1665 490V537M1658.5 490H1671.5M1658.5 537H1671.5M1667.3 489.9V537M1660.8 489.9H1673.8M1660.8 537H1673.8M1669.6 482.6V537.9M1663.1 482.6H1676.1M1663.1 537.9H1676.1M1671.9 478.7V535.1M1665.4 478.7H1678.4M1665.4 535.1H1678.4M1674.2 478.3V524.7M1667.7 478.3H1680.7M1667.7 524.7H1680.7M1676.5 468.8V514.5M1670 468.8H1683M1670 514.5H1683M1678.8 450.2V494.4M1672.3 450.2H1685.3M1672.3 494.4H1685.3M1681.1 426.4V473.6M1674.6 426.4H1687.6M1674.6 473.6H1687.6M1683.4 413.8V456.5M1676.9 413.8H1689.9M1676.9 456.5H1689.9M1685.8 385.2V428.4M1679.2 385.2H1692.2M1679.2 428.4H1692.2M1688.1 358.3V404.5M1681.6 358.3H1694.6M1681.6 404.5H1694.6M1690.4 323.1V402.5M1683.9 323.1H1696.9M1683.9 402.5H1696.9M1692.7 317.7V370.1M1686.2 317.7H1699.2M1686.2 370.1H1699.2M1695 299.1V351.8M1688.5 299.1H1701.5M1688.5 351.8H1701.5M1697.3 274.5V356.5M1690.8 274.5H1703.8M1690.8 356.5H1703.8M1699.6 277.6V346M1693.1 277.6H1706.1M1693.1 346H1706.1M1701.9 264.5V352.9M1695.4 264.5H1708.4M1695.4 352.9H1708.4M1704.2 265.6V344M1697.7 265.6H1710.7M1697.7 344H1710.7M1706.5 264.1V344.2M1700 264.1H1713M1700 344.2H1713M1708.8 265.1V336.8M1702.3 265.1H1715.3M1702.3 336.8H1715.3M1711.1 273.1V327.2M1704.6 273.1H1717.6M1704.6 327.2H1717.6M1713.4 263V329.7M1706.9 263H1719.9M1706.9 329.7H1719.9M1715.8 252.1V337.8M1709.3 252.1H1722.3M1709.3 337.8H1722.3M1718.1 271.4V322.4M1711.6 271.4H1724.6M1711.6 322.4H1724.6M1720.4 254.2V342.2M1713.9 254.2H1726.9M1713.9 342.2H1726.9M1722.7 275V327.4M1716.2 275H1729.2M1716.2 327.4H1729.2M1725 274.9V326.7M1718.5 274.9H1731.5M1718.5 326.7H1731.5M1727.3 271.7V341.1M1720.8 271.7H1733.8M1720.8 341.1H1733.8M1729.6 270V345.9M1723.1 270H1736.1M1723.1 345.9H1736.1M1731.9 272.4V340.2M1725.4 272.4H1738.4M1725.4 340.2H1738.4M1734.2 269.3V351.5M1727.7 269.3H1740.7M1727.7 351.5H1740.7M1736.5 271.4V359.5M1730 271.4H1743M1730 359.5H1743M1738.8 269.9V356.6M1732.3 269.9H1745.3M1732.3 356.6H1745.3M1741.1 274V367.3M1734.6 274H1747.6M1734.6 367.3H1747.6M1743.5 290.2V346M1737 290.2H1750M1737 346H1750" stroke="#595959" stroke-width="2" fill="none"/>
<path d="M1284.1 463.5V518.9M1286.4 476.7V526.4M1288.7 478.4V529.6M1291 485.4V528.5M1293.3 485.3V531.2M1295.6 486.1V538.1M1297.9 490.1V542.1M1300.3 491.7V534.3M1302.6 490.2V535M1304.9 494.8V538.9M1307.2 492.8V536.5M1309.5 494.5V540.7M1311.8 494.5V542.9M1314.1 497.5V539.3M1316.4 498.6V540.8M1318.7 497V539.6M1321 498.8V540.3M1323.3 496V537.6M1325.6 492.5V540.5M1328 498.4V540.1M1330.3 493.6V543.1M1332.6 498.4V539.3M1334.9 498.5V542.6M1337.2 501.4V541.6M1339.5 495.3V541.2M1341.8 496.7V543.9M1344.1 495.1V535.5M1346.4 494.6V533.9M1348.7 493.9V535.4M1351 484.9V523.5M1353.3 471.7V510.7M1355.7 441.4V486.1M1358 432.8V469M1360.3 397.6V439.8M1362.6 343.1V381M1364.9 321.7V357.5M1367.2 301.9V346.3M1369.5 290V327.2M1371.8 266V305.6M1374.1 262.2V298.9M1376.4 253.8V290.7M1378.7 246.9V295.1M1381 245.7V281.8M1383.4 239.9V288.8M1385.7 246.2V282.7M1388 231.4V289M1390.3 240.3V280.5M1392.6 221V298.2M1394.9 233.6V285.2M1397.2 236.8V282.1M1399.5 220.9V303.6M1401.8 239.1V278.9M1404.1 240.9V281M1406.4 218.4V294.4M1408.8 223.6V293.7M1411.1 220.9V296.4M1413.4 239.2V279.7M1415.7 230.3V284.2M1418 221.8V301.1M1420.3 229.4V287.7M1422.6 235.8V285.7M1424.9 239.7V280M1427.2 231.6V303M1429.5 248.5V291.9M1431.8 249.5V317.8M1434.1 285.5V323.6M1436.4 312.5V373.2M1438.8 356.3V396.2M1441.1 403.4V445.3M1443.4 429.4V474M1445.7 453.8V492.6M1448 464.7V503.1M1450.3 465.9V512.6M1452.6 478.4V515.2M1454.9 479.3V517M1457.2 484.4V522.2M1459.5 485.8V522.7M1461.8 487.8V534.4M1464.1 488.8V529.4M1466.5 497V533.9M1468.8 499.3V536.6M1471.1 497V538.2M1473.4 498.5V537.3M1475.7 495.7V537.8M1478 495.1V538.6M1480.3 496.7V537.4M1482.6 492.9V536.2M1484.9 497.7V537.2M1487.2 495.8V542.5M1489.5 497.5V537.3M1491.8 497.7V537.4M1494.2 494.5V536.6M1496.5 494.2V536.7M1498.8 497.8V538.2M1501.1 497.9V538.6M1503.4 493.5V541.9M1505.7 494.6V535.9M1508 492.3V535.7M1510.3 481.1V523M1512.6 461.3V515.9M1514.9 451V500.4M1517.2 426.1V485.3M1519.5 404.5V467.4M1521.9 380.9V423.2M1524.2 339.6V410.3M1526.5 317.6V365.3M1528.8 299V345.1M1531.1 270.8V319.6M1533.4 267.7V313.7M1535.7 246.3V325.5M1538 259.7V307.6M1540.3 260.2V309.8M1542.6 258.2V305.2M1544.9 240.6V323.3M1547.2 245V325.1M1549.6 245.6V318.4M1551.9 252.2V311.2M1554.2 258.4V311.2M1556.5 255.8V316.7M1558.8 243.6V325.4M1561.1 235.9V327.3M1563.4 257.1V312.5M1565.7 259.8V311.8M1568 254.9V319M1570.3 245.3V321M1572.6 258.1V309.2M1574.9 260.4V310.6M1577.3 259.7V313M1579.6 238V333.3M1581.9 250V321.5M1584.2 258.9V310.2M1586.5 256.9V309.6M1588.8 256.8V317.6M1591.1 241.8V332.2M1593.4 257.6V312.7M1595.7 263V314.4M1598 262.6V314.7M1600.3 289.4V337.1M1602.6 309.6V362.2M1605 333.5V375M1607.3 391.8V439.5M1609.6 425.8V486.9M1611.9 445.3V490.8M1614.2 449.8V500.7M1616.5 461.8V514.9M1618.8 473.4V517M1621.1 478V526.4M1623.4 486.4V530.6M1625.7 489.2V534.7M1628 491.2V542.1M1630.3 485V540.4M1632.7 487.9V535.5M1635 491.9V536.3M1637.3 485.8V538.6M1639.6 487.8V536.4M1641.9 495.6V540.2M1644.2 488.7V538.7M1646.5 490.3V541.2M1648.8 495V540.5M1651.1 491.5V538.1M1653.4 484.6V541.6M1655.7 490.8V544M1658 484.4V540.8M1660.4 492.2V541.6M1662.7 492V541.5M1665 490V537M1667.3 489.9V537M1669.6 482.6V537.9M1671.9 478.7V535.1M1674.2 478.3V524.7M1676.5 468.8V514.5M1678.8 450.2V494.4M1681.1 426.4V473.6M1683.4 413.8V456.5M1685.8 385.2V428.4M1688.1 358.3V404.5M1690.4 323.1V402.5M1692.7 317.7V370.1M1695 299.1V351.8M1697.3 274.5V356.5M1699.6 277.6V346M1701.9 264.5V352.9M1704.2 265.6V344M1706.5 264.1V344.2M1708.8 265.1V336.8M1711.1 273.1V327.2M1713.4 263V329.7M1715.8 252.1V337.8M1718.1 271.4V322.4M1720.4 254.2V342.2M1722.7 275V327.4M1725 274.9V326.7M1727.3 271.7V341.1M1729.6 270V345.9M1731.9 272.4V340.2M1734.2 269.3V351.5M1736.5 271.4V359.5M1738.8 269.9V356.6M1741.1 274V367.3M1743.5 290.2V346" stroke="#595959" stroke-width="2.4" fill="none"/>
<polyline points="1284.1,491.2 1286.4,501.5 1288.7,504 1291,506.9 1293.3,508.3 1295.6,512.1 1297.9,516.1 1300.3,513 1302.6,512.6 1304.9,516.9 1307.2,514.7 1309.5,517.6 1311.8,518.7 1314.1,518.4 1316.4,519.7 1318.7,518.3 1321,519.5 1323.3,516.8 1325.6,516.5 1328,519.3 1330.3,518.4 1332.6,518.9 1334.9,520.5 1337.2,521.5 1339.5,518.2 1341.8,520.3 1344.1,515.3 1346.4,514.3 1348.7,514.6 1351,504.2 1353.3,491.2 1355.7,463.7 1358,450.9 1360.3,418.7 1362.6,362.1 1364.9,339.6 1367.2,324.1 1369.5,308.6 1371.8,285.8 1374.1,280.6 1376.4,272.3 1378.7,271 1381,263.7 1383.4,264.4 1385.7,264.4 1388,260.2 1390.3,260.4 1392.6,259.6 1394.9,259.4 1397.2,259.4 1399.5,262.2 1401.8,259 1404.1,261 1406.4,256.4 1408.8,258.7 1411.1,258.6 1413.4,259.4 1415.7,257.2 1418,261.4 1420.3,258.6 1422.6,260.7 1424.9,259.9 1427.2,267.3 1429.5,270.2 1431.8,283.7 1434.1,304.5 1436.4,342.9 1438.8,376.3 1441.1,424.4 1443.4,451.7 1445.7,473.2 1448,483.9 1450.3,489.2 1452.6,496.8 1454.9,498.1 1457.2,503.3 1459.5,504.2 1461.8,511.1 1464.1,509.1 1466.5,515.4 1468.8,518 1471.1,517.6 1473.4,517.9 1475.7,516.7 1478,516.8 1480.3,517 1482.6,514.6 1484.9,517.4 1487.2,519.2 1489.5,517.4 1491.8,517.6 1494.2,515.6 1496.5,515.4 1498.8,518 1501.1,518.3 1503.4,517.7 1505.7,515.2 1508,514 1510.3,502 1512.6,488.6 1514.9,475.7 1517.2,455.7 1519.5,435.9 1521.9,402 1524.2,375 1526.5,341.4 1528.8,322.1 1531.1,295.2 1533.4,290.7 1535.7,285.9 1538,283.6 1540.3,285 1542.6,281.7 1544.9,282 1547.2,285.1 1549.6,282 1551.9,281.7 1554.2,284.8 1556.5,286.2 1558.8,284.5 1561.1,281.6 1563.4,284.8 1565.7,285.8 1568,286.9 1570.3,283.2 1572.6,283.7 1574.9,285.5 1577.3,286.3 1579.6,285.7 1581.9,285.8 1584.2,284.5 1586.5,283.3 1588.8,287.2 1591.1,287 1593.4,285.1 1595.7,288.7 1598,288.6 1600.3,313.2 1602.6,335.9 1605,354.2 1607.3,415.6 1609.6,456.3 1611.9,468.1 1614.2,475.2 1616.5,488.3 1618.8,495.2 1621.1,502.2 1623.4,508.5 1625.7,512 1628,516.6 1630.3,512.7 1632.7,511.7 1635,514.1 1637.3,512.2 1639.6,512.1 1641.9,517.9 1644.2,513.7 1646.5,515.7 1648.8,517.8 1651.1,514.8 1653.4,513.1 1655.7,517.4 1658,512.6 1660.4,516.9 1662.7,516.7 1665,513.5 1667.3,513.4 1669.6,510.2 1671.9,506.9 1674.2,501.5 1676.5,491.7 1678.8,472.3 1681.1,450 1683.4,435.1 1685.8,406.8 1688.1,381.4 1690.4,362.8 1692.7,343.9 1695,325.4 1697.3,315.5 1699.6,311.8 1701.9,308.7 1704.2,304.8 1706.5,304.1 1708.8,300.9 1711.1,300.1 1713.4,296.4 1715.8,295 1718.1,296.9 1720.4,298.2 1722.7,301.2 1725,300.8 1727.3,306.4 1729.6,307.9 1731.9,306.3 1734.2,310.4 1736.5,315.5 1738.8,313.2 1741.1,320.6 1743.5,318.1" stroke="#4472C4" stroke-width="7" fill="none" stroke-linejoin="round"/>
<g fill="#4472C4"><circle cx="1284.1" cy="491.2" r="6.6"/><circle cx="1286.4" cy="501.5" r="6.6"/><circle cx="1288.7" cy="504" r="6.6"/><circle cx="1291" cy="506.9" r="6.6"/><circle cx="1293.3" cy="508.3" r="6.6"/><circle cx="1295.6" cy="512.1" r="6.6"/><circle cx="1297.9" cy="516.1" r="6.6"/><circle cx="1300.3" cy="513" r="6.6"/><circle cx="1302.6" cy="512.6" r="6.6"/><circle cx="1304.9" cy="516.9" r="6.6"/><circle cx="1307.2" cy="514.7" r="6.6"/><circle cx="1309.5" cy="517.6" r="6.6"/><circle cx="1311.8" cy="518.7" r="6.6"/><circle cx="1314.1" cy="518.4" r="6.6"/><circle cx="1316.4" cy="519.7" r="6.6"/><circle cx="1318.7" cy="518.3" r="6.6"/><circle cx="1321" cy="519.5" r="6.6"/><circle cx="1323.3" cy="516.8" r="6.6"/><circle cx="1325.6" cy="516.5" r="6.6"/><circle cx="1328" cy="519.3" r="6.6"/><circle cx="1330.3" cy="518.4" r="6.6"/><circle cx="1332.6" cy="518.9" r="6.6"/><circle cx="1334.9" cy="520.5" r="6.6"/><circle cx="1337.2" cy="521.5" r="6.6"/><circle cx="1339.5" cy="518.2" r="6.6"/><circle cx="1341.8" cy="520.3" r="6.6"/><circle cx="1344.1" cy="515.3" r="6.6"/><circle cx="1346.4" cy="514.3" r="6.6"/><circle cx="1348.7" cy="514.6" r="6.6"/><circle cx="1351" cy="504.2" r="6.6"/><circle cx="1353.3" cy="491.2" r="6.6"/><circle cx="1355.7" cy="463.7" r="6.6"/><circle cx="1358" cy="450.9" r="6.6"/><circle cx="1360.3" cy="418.7" r="6.6"/><circle cx="1362.6" cy="362.1" r="6.6"/><circle cx="1364.9" cy="339.6" r="6.6"/><circle cx="1367.2" cy="324.1" r="6.6"/><circle cx="1369.5" cy="308.6" r="6.6"/><circle cx="1371.8" cy="285.8" r="6.6"/><circle cx="1374.1" cy="280.6" r="6.6"/><circle cx="1376.4" cy="272.3" r="6.6"/><circle cx="1378.7" cy="271" r="6.6"/><circle cx="1381" cy="263.7" r="6.6"/><circle cx="1383.4" cy="264.4" r="6.6"/><circle cx="1385.7" cy="264.4" r="6.6"/><circle cx="1388" cy="260.2" r="6.6"/><circle cx="1390.3" cy="260.4" r="6.6"/><circle cx="1392.6" cy="259.6" r="6.6"/><circle cx="1394.9" cy="259.4" r="6.6"/><circle cx="1397.2" cy="259.4" r="6.6"/><circle cx="1399.5" cy="262.2" r="6.6"/><circle cx="1401.8" cy="259" r="6.6"/><circle cx="1404.1" cy="261" r="6.6"/><circle cx="1406.4" cy="256.4" r="6.6"/><circle cx="1408.8" cy="258.7" r="6.6"/><circle cx="1411.1" cy="258.6" r="6.6"/><circle cx="1413.4" cy="259.4" r="6.6"/><circle cx="1415.7" cy="257.2" r="6.6"/><circle cx="1418" cy="261.4" r="6.6"/><circle cx="1420.3" cy="258.6" r="6.6"/><circle cx="1422.6" cy="260.7" r="6.6"/><circle cx="1424.9" cy="259.9" r="6.6"/><circle cx="1427.2" cy="267.3" r="6.6"/><circle cx="1429.5" cy="270.2" r="6.6"/><circle cx="1431.8" cy="283.7" r="6.6"/><circle cx="1434.1" cy="304.5" r="6.6"/><circle cx="1436.4" cy="342.9" r="6.6"/><circle cx="1438.8" cy="376.3" r="6.6"/><circle cx="1441.1" cy="424.4" r="6.6"/><circle cx="1443.4" cy="451.7" r="6.6"/><circle cx="1445.7" cy="473.2" r="6.6"/><circle cx="1448" cy="483.9" r="6.6"/><circle cx="1450.3" cy="489.2" r="6.6"/><circle cx="1452.6" cy="496.8" r="6.6"/><circle cx="1454.9" cy="498.1" r="6.6"/><circle cx="1457.2" cy="503.3" r="6.6"/><circle cx="1459.5" cy="504.2" r="6.6"/><circle cx="1461.8" cy="511.1" r="6.6"/><circle cx="1464.1" cy="509.1" r="6.6"/><circle cx="1466.5" cy="515.4" r="6.6"/><circle cx="1468.8" cy="518" r="6.6"/><circle cx="1471.1" cy="517.6" r="6.6"/><circle cx="1473.4" cy="517.9" r="6.6"/><circle cx="1475.7" cy="516.7" r="6.6"/><circle cx="1478" cy="516.8" r="6.6"/><circle cx="1480.3" cy="517" r="6.6"/><circle cx="1482.6" cy="514.6" r="6.6"/><circle cx="1484.9" cy="517.4" r="6.6"/><circle cx="1487.2" cy="519.2" r="6.6"/><circle cx="1489.5" cy="517.4" r="6.6"/><circle cx="1491.8" cy="517.6" r="6.6"/><circle cx="1494.2" cy="515.6" r="6.6"/><circle cx="1496.5" cy="515.4" r="6.6"/><circle cx="1498.8" cy="518" r="6.6"/><circle cx="1501.1" cy="518.3" r="6.6"/><circle cx="1503.4" cy="517.7" r="6.6"/><circle cx="1505.7" cy="515.2" r="6.6"/><circle cx="1508" cy="514" r="6.6"/><circle cx="1510.3" cy="502" r="6.6"/><circle cx="1512.6" cy="488.6" r="6.6"/><circle cx="1514.9" cy="475.7" r="6.6"/><circle cx="1517.2" cy="455.7" r="6.6"/><circle cx="1519.5" cy="435.9" r="6.6"/><circle cx="1521.9" cy="402" r="6.6"/><circle cx="1524.2" cy="375" r="6.6"/><circle cx="1526.5" cy="341.4" r="6.6"/><circle cx="1528.8" cy="322.1" r="6.6"/><circle cx="1531.1" cy="295.2" r="6.6"/><circle cx="1533.4" cy="290.7" r="6.6"/><circle cx="1535.7" cy="285.9" r="6.6"/><circle cx="1538" cy="283.6" r="6.6"/><circle cx="1540.3" cy="285" r="6.6"/><circle cx="1542.6" cy="281.7" r="6.6"/><circle cx="1544.9" cy="282" r="6.6"/><circle cx="1547.2" cy="285.1" r="6.6"/><circle cx="1549.6" cy="282" r="6.6"/><circle cx="1551.9" cy="281.7" r="6.6"/><circle cx="1554.2" cy="284.8" r="6.6"/><circle cx="1556.5" cy="286.2" r="6.6"/><circle cx="1558.8" cy="284.5" r="6.6"/><circle cx="1561.1" cy="281.6" r="6.6"/><circle cx="1563.4" cy="284.8" r="6.6"/><circle cx="1565.7" cy="285.8" r="6.6"/><circle cx="1568" cy="286.9" r="6.6"/><circle cx="1570.3" cy="283.2" r="6.6"/><circle cx="1572.6" cy="283.7" r="6.6"/><circle cx="1574.9" cy="285.5" r="6.6"/><circle cx="1577.3" cy="286.3" r="6.6"/><circle cx="1579.6" cy="285.7" r="6.6"/><circle cx="1581.9" cy="285.8" r="6.6"/><circle cx="1584.2" cy="284.5" r="6.6"/><circle cx="1586.5" cy="283.3" r="6.6"/><circle cx="1588.8" cy="287.2" r="6.6"/><circle cx="1591.1" cy="287" r="6.6"/><circle cx="1593.4" cy="285.1" r="6.6"/><circle cx="1595.7" cy="288.7" r="6.6"/><circle cx="1598" cy="288.6" r="6.6"/><circle cx="1600.3" cy="313.2" r="6.6"/><circle cx="1602.6" cy="335.9" r="6.6"/><circle cx="1605" cy="354.2" r="6.6"/><circle cx="1607.3" cy="415.6" r="6.6"/><circle cx="1609.6" cy="456.3" r="6.6"/><circle cx="1611.9" cy="468.1" r="6.6"/><circle cx="1614.2" cy="475.2" r="6.6"/><circle cx="1616.5" cy="488.3" r="6.6"/><circle cx="1618.8" cy="495.2" r="6.6"/><circle cx="1621.1" cy="502.2" r="6.6"/><circle cx="1623.4" cy="508.5" r="6.6"/><circle cx="1625.7" cy="512" r="6.6"/><circle cx="1628" cy="516.6" r="6.6"/><circle cx="1630.3" cy="512.7" r="6.6"/><circle cx="1632.7" cy="511.7" r="6.6"/><circle cx="1635" cy="514.1" r="6.6"/><circle cx="1637.3" cy="512.2" r="6.6"/><circle cx="1639.6" cy="512.1" r="6.6"/><circle cx="1641.9" cy="517.9" r="6.6"/><circle cx="1644.2" cy="513.7" r="6.6"/><circle cx="1646.5" cy="515.7" r="6.6"/><circle cx="1648.8" cy="517.8" r="6.6"/><circle cx="1651.1" cy="514.8" r="6.6"/><circle cx="1653.4" cy="513.1" r="6.6"/><circle cx="1655.7" cy="517.4" r="6.6"/><circle cx="1658" cy="512.6" r="6.6"/><circle cx="1660.4" cy="516.9" r="6.6"/><circle cx="1662.7" cy="516.7" r="6.6"/><circle cx="1665" cy="513.5" r="6.6"/><circle cx="1667.3" cy="513.4" r="6.6"/><circle cx="1669.6" cy="510.2" r="6.6"/><circle cx="1671.9" cy="506.9" r="6.6"/><circle cx="1674.2" cy="501.5" r="6.6"/><circle cx="1676.5" cy="491.7" r="6.6"/><circle cx="1678.8" cy="472.3" r="6.6"/><circle cx="1681.1" cy="450" r="6.6"/><circle cx="1683.4" cy="435.1" r="6.6"/><circle cx="1685.8" cy="406.8" r="6.6"/><circle cx="1688.1" cy="381.4" r="6.6"/><circle cx="1690.4" cy="362.8" r="6.6"/><circle cx="1692.7" cy="343.9" r="6.6"/><circle cx="1695" cy="325.4" r="6.6"/><circle cx="1697.3" cy="315.5" r="6.6"/><circle cx="1699.6" cy="311.8" r="6.6"/><circle cx="1701.9" cy="308.7" r="6.6"/><circle cx="1704.2" cy="304.8" r="6.6"/><circle cx="1706.5" cy="304.1" r="6.6"/><circle cx="1708.8" cy="300.9" r="6.6"/><circle cx="1711.1" cy="300.1" r="6.6"/><circle cx="1713.4" cy="296.4" r="6.6"/><circle cx="1715.8" cy="295" r="6.6"/><circle cx="1718.1" cy="296.9" r="6.6"/><circle cx="1720.4" cy="298.2" r="6.6"/><circle cx="1722.7" cy="301.2" r="6.6"/><circle cx="1725" cy="300.8" r="6.6"/><circle cx="1727.3" cy="306.4" r="6.6"/><circle cx="1729.6" cy="307.9" r="6.6"/><circle cx="1731.9" cy="306.3" r="6.6"/><circle cx="1734.2" cy="310.4" r="6.6"/><circle cx="1736.5" cy="315.5" r="6.6"/><circle cx="1738.8" cy="313.2" r="6.6"/><circle cx="1741.1" cy="320.6" r="6.6"/><circle cx="1743.5" cy="318.1" r="6.6"/></g>
<polyline points="1294.7,508.1 1318,516.2 1339.6,513.5 1361.2,383.8 1383.9,273 1407.1,267.6 1428.8,294.6 1452,485.4 1474.7,518.9 1496.3,520 1519,432.4 1542.3,291.9 1563.9,291.9 1587.1,294.6 1608.2,416.2 1631.5,512.4 1654.7,516.2 1677.4,480 1700.1,332.4 1723.4,308.1" stroke="#ED7D31" stroke-width="3" fill="none" stroke-linejoin="round"/>
<g fill="#ED7D31"><circle cx="1294.7" cy="508.1" r="6.3"/><circle cx="1318" cy="516.2" r="6.3"/><circle cx="1339.6" cy="513.5" r="6.3"/><circle cx="1361.2" cy="383.8" r="6.3"/><circle cx="1383.9" cy="273" r="6.3"/><circle cx="1407.1" cy="267.6" r="6.3"/><circle cx="1428.8" cy="294.6" r="6.3"/><circle cx="1452" cy="485.4" r="6.3"/><circle cx="1474.7" cy="518.9" r="6.3"/><circle cx="1496.3" cy="520" r="6.3"/><circle cx="1519" cy="432.4" r="6.3"/><circle cx="1542.3" cy="291.9" r="6.3"/><circle cx="1563.9" cy="291.9" r="6.3"/><circle cx="1587.1" cy="294.6" r="6.3"/><circle cx="1608.2" cy="416.2" r="6.3"/><circle cx="1631.5" cy="512.4" r="6.3"/><circle cx="1654.7" cy="516.2" r="6.3"/><circle cx="1677.4" cy="480" r="6.3"/><circle cx="1700.1" cy="332.4" r="6.3"/><circle cx="1723.4" cy="308.1" r="6.3"/></g>
<rect x="1284.1" y="119.8" width="483.9" height="452.9" fill="none" stroke="#000" stroke-width="2.2"/>
<path d="M1274.6 572.7H1284.1M1274.6 459.5H1284.1M1274.6 346.2H1284.1M1274.6 233H1284.1M1274.6 119.8H1284.1M1284.1 572.7V581.2M1422.6 572.7V581.2M1561.1 572.7V581.2M1699.6 572.7V581.2" stroke="#000" stroke-width="2.2" fill="none"/>
<text x="1258.8" y="582.7" font-family='"Liberation Sans", Arial, sans-serif' font-size="26" text-anchor="end" fill="#000">0</text>
<text x="1260.6" y="469.5" font-family='"Liberation Sans", Arial, sans-serif' font-size="26" text-anchor="end" fill="#000" textLength="39" lengthAdjust="spacingAndGlyphs">0.5</text>
<text x="1258.8" y="356.2" font-family='"Liberation Sans", Arial, sans-serif' font-size="26" text-anchor="end" fill="#000">1</text>
<text x="1260.6" y="243" font-family='"Liberation Sans", Arial, sans-serif' font-size="26" text-anchor="end" fill="#000" textLength="39" lengthAdjust="spacingAndGlyphs">1.5</text>
<text x="1258.8" y="129.8" font-family='"Liberation Sans", Arial, sans-serif' font-size="26" text-anchor="end" fill="#000">2</text>
<text x="1284.1" y="617.8" font-family='"Liberation Sans", Arial, sans-serif' font-size="26" text-anchor="middle" fill="#000">0</text>
<text x="1422.6" y="617.8" font-family='"Liberation Sans", Arial, sans-serif' font-size="26" text-anchor="middle" fill="#000">20</text>
<text x="1561.1" y="617.8" font-family='"Liberation Sans", Arial, sans-serif' font-size="26" text-anchor="middle" fill="#000">40</text>
<text x="1699.6" y="617.8" font-family='"Liberation Sans", Arial, sans-serif' font-size="26" text-anchor="middle" fill="#000">60</text>
<line x1="1499.1" y1="149.8" x2="1554.4" y2="149.8" stroke="#3a68c6" stroke-width="3.6"/>
<circle cx="1529.2" cy="151.8" r="6" fill="#4472C4"/>
<line x1="1499.1" y1="191.6" x2="1554.4" y2="191.6" stroke="#ED7D31" stroke-width="3.8"/>
<circle cx="1529.2" cy="192.6" r="6.3" fill="#ED7D31"/>
<text x="1558.3" y="160" font-family='"Liberation Sans", Arial, sans-serif' font-size="24.7" fill="#000" textLength="113.3" lengthAdjust="spacingAndGlyphs">Raw data</text>
<text x="1558.3" y="199.5" font-family='"Liberation Sans", Arial, sans-serif' font-size="24.7" fill="#000" textLength="194.5" lengthAdjust="spacingAndGlyphs">Moving average</text>
<text x="1298.2" y="45.9" font-family='"Liberation Sans", Arial, sans-serif' font-size="34" fill="#000" textLength="293.6" lengthAdjust="spacingAndGlyphs">Complete medium</text>
<text transform="translate(29.3 331.6) rotate(-90)" x="0" y="0" font-family='"Liberation Sans", Arial, sans-serif' font-size="32" text-anchor="middle" fill="#000" textLength="434" lengthAdjust="spacingAndGlyphs">Surface accumulation ratio</text>
<text x="884.3" y="656.7" font-family='"Liberation Sans", Arial, sans-serif' font-size="34" text-anchor="middle" fill="#000" textLength="256.5" lengthAdjust="spacingAndGlyphs">Observation (h)</text>
</svg>
</body></html>
